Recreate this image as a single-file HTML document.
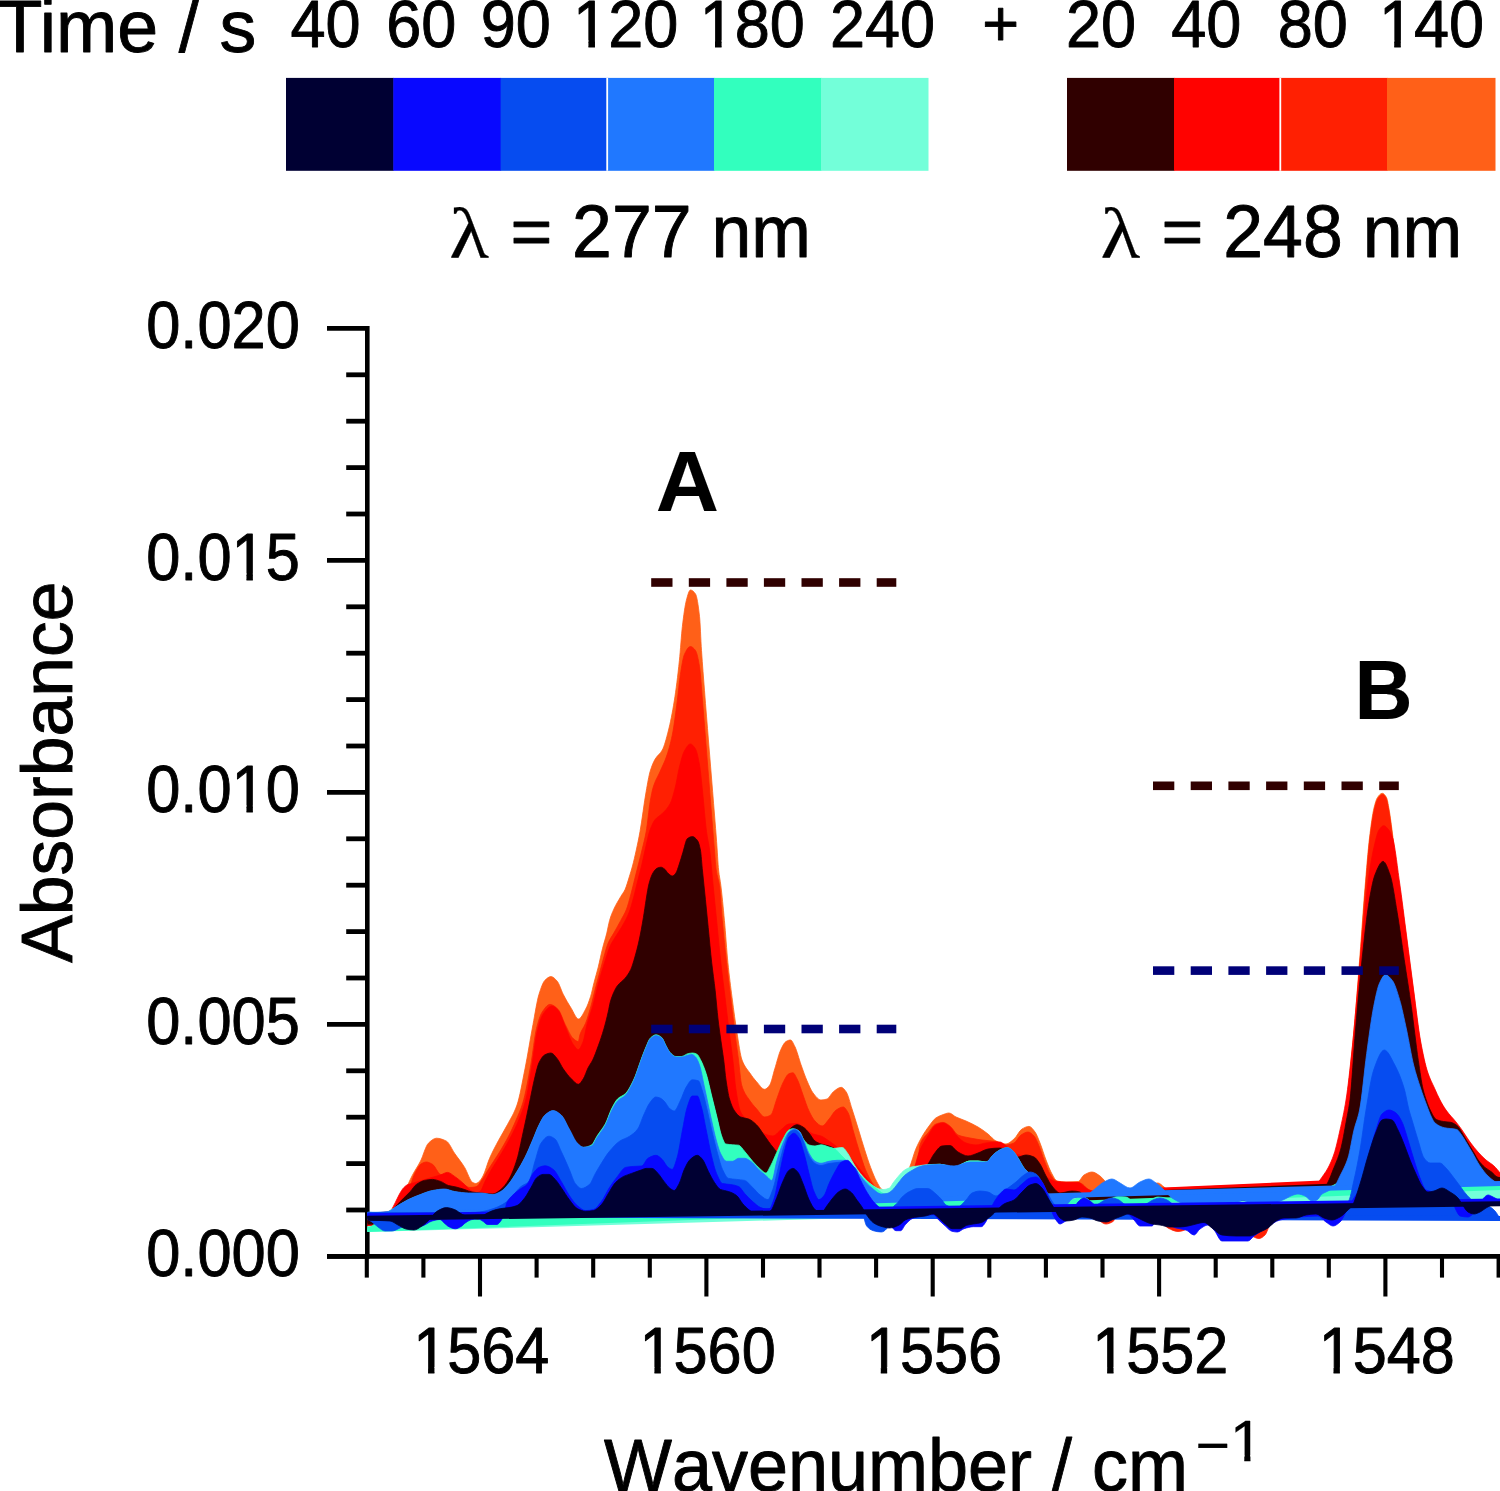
<!DOCTYPE html>
<html lang="en">
<head>
<meta charset="utf-8">
<title>Absorbance vs Wavenumber</title>
<style>
html,body{margin:0;padding:0;background:#fff;}
body{width:1500px;height:1491px;overflow:hidden;}
svg{display:block;}
text{font-family:"Liberation Sans", sans-serif;fill:#000;font-kerning:none;}
.ser{font-family:"Liberation Serif", serif;}
</style>
</head>
<body>
<svg width="1500" height="1491" viewBox="0 0 1500 1491">
<rect width="1500" height="1491" fill="#fff"/>
<defs><clipPath id="c1a" clipPathUnits="userSpaceOnUse"><path clip-rule="evenodd" d="M-60 -130H900V60H-60ZM4.0 -9.8H24.3V4.0H4.0ZM34.7 -9.8H54.0V4.0H34.7Z"/></clipPath><clipPath id="c1b" clipPathUnits="userSpaceOnUse"><path clip-rule="evenodd" d="M-60 -130H900V60H-60ZM143.0 -9.8H163.3V4.0H143.0ZM173.7 -9.8H193.0V4.0H173.7Z"/></clipPath><clipPath id="c1c" clipPathUnits="userSpaceOnUse"><path clip-rule="evenodd" d="M-60 -130H900V60H-60ZM62.4 -17.4H82.7V-3.6H62.4ZM93.1 -17.4H112.4V-3.6H93.1Z"/></clipPath></defs>
<g id="legend">
<rect x="286" y="77.9" width="107.8" height="92.9" fill="#000033"/>
<rect x="393.3" y="77.9" width="107.8" height="92.9" fill="#0808ff"/>
<rect x="500.6" y="77.9" width="107.6" height="92.9" fill="#064cf0"/>
<rect x="607.7" y="77.9" width="106.8" height="92.9" fill="#2078ff"/>
<rect x="714" y="77.9" width="107.5" height="92.9" fill="#32ffbe"/>
<rect x="821" y="77.9" width="107.5" height="92.9" fill="#73ffd9"/>
<rect x="606.3" y="77.9" width="1.8" height="92.9" fill="#fff"/>
<rect x="1067" y="77.9" width="107.5" height="92.9" fill="#300000"/>
<rect x="1174" y="77.9" width="107.0" height="92.9" fill="#ff0200"/>
<rect x="1280.5" y="77.9" width="107.0" height="92.9" fill="#ff2002"/>
<rect x="1387" y="77.9" width="108.5" height="92.9" fill="#ff6018"/>
<rect x="1279.4" y="77.9" width="1.8" height="92.9" fill="#fff"/>
<text transform="translate(-2.44 52.40) scale(0.7357 0.7450)" font-size="100" stroke="#000" stroke-width="1.22" stroke-linejoin="round" style="font-kerning:normal">Time / s</text>
<text transform="translate(290.47 46.74) scale(0.6300 0.6590)" font-size="100" stroke="#000" stroke-width="1.40" stroke-linejoin="round">40</text>
<text transform="translate(386.32 46.74) scale(0.6300 0.6590)" font-size="100" stroke="#000" stroke-width="1.40" stroke-linejoin="round">60</text>
<text transform="translate(480.72 46.74) scale(0.6300 0.6590)" font-size="100" stroke="#000" stroke-width="1.40" stroke-linejoin="round">90</text>
<text transform="translate(573.11 46.74) scale(0.6300 0.6590)" font-size="100" stroke="#000" stroke-width="1.40" stroke-linejoin="round" clip-path="url(#c1a)">120</text>
<text transform="translate(699.71 46.74) scale(0.6300 0.6590)" font-size="100" stroke="#000" stroke-width="1.40" stroke-linejoin="round" clip-path="url(#c1a)">180</text>
<text transform="translate(829.88 46.74) scale(0.6300 0.6590)" font-size="100" stroke="#000" stroke-width="1.40" stroke-linejoin="round">240</text>
<text transform="translate(1066.02 46.74) scale(0.6300 0.6590)" font-size="100" stroke="#000" stroke-width="1.40" stroke-linejoin="round">20</text>
<text transform="translate(1171.26 46.74) scale(0.6300 0.6590)" font-size="100" stroke="#000" stroke-width="1.40" stroke-linejoin="round">40</text>
<text transform="translate(1277.63 46.74) scale(0.6300 0.6590)" font-size="100" stroke="#000" stroke-width="1.40" stroke-linejoin="round">80</text>
<text transform="translate(1378.91 46.74) scale(0.6300 0.6590)" font-size="100" stroke="#000" stroke-width="1.40" stroke-linejoin="round" clip-path="url(#c1a)">140</text>
<text transform="translate(982.30 45.80) scale(0.6300 0.6400)" font-size="100" stroke="#000" stroke-width="1.42" stroke-linejoin="round">+</text>
<text transform="translate(449.20 257.70) scale(0.8180 0.7200)" font-size="100" stroke="#000" stroke-width="0.33" stroke-linejoin="round" class="ser">λ</text>
<text transform="translate(510.40 253.50) scale(0.7160 0.6450)" font-size="100" stroke="#000" stroke-width="1.32" stroke-linejoin="round">=</text>
<text transform="translate(572.10 257.40) scale(0.7160 0.7340)" font-size="100" stroke="#000" stroke-width="1.24" stroke-linejoin="round">277 nm</text>
<text transform="translate(1100.40 257.70) scale(0.8180 0.7200)" font-size="100" stroke="#000" stroke-width="0.33" stroke-linejoin="round" class="ser">λ</text>
<text transform="translate(1161.60 253.50) scale(0.7160 0.6450)" font-size="100" stroke="#000" stroke-width="1.32" stroke-linejoin="round">=</text>
<text transform="translate(1223.30 257.40) scale(0.7160 0.7340)" font-size="100" stroke="#000" stroke-width="1.24" stroke-linejoin="round">248 nm</text>
</g>
<g id="spectra">
<path d="M367.3 326.0V1258.8000000000002" stroke="#000" stroke-width="4.6" fill="none"/>
<clipPath id="plotclip"><rect x="367.3" y="300" width="1132.7" height="960"/></clipPath>
<g clip-path="url(#plotclip)">
<path d="M367.3 1214.6C371.5 1214.0 375.8 1213.3 380.0 1212.6C384.0 1211.9 388.0 1211.8 392.0 1210.5C394.0 1209.8 396.0 1206.7 398.0 1204.0C400.0 1201.3 402.0 1196.9 404.0 1193.0C406.8 1187.6 409.5 1180.7 412.3 1175.4C415.0 1170.2 417.7 1166.6 420.4 1161.3C423.1 1156.1 425.7 1145.8 428.4 1143.2C431.1 1140.6 433.8 1138.2 436.5 1138.2C439.8 1138.2 443.2 1139.5 446.5 1141.2C449.2 1142.6 451.9 1149.4 454.6 1153.3C457.9 1158.1 461.3 1162.0 464.6 1167.4C467.3 1171.8 470.0 1181.1 472.7 1182.5C473.7 1183.0 474.7 1183.5 475.7 1183.5C476.7 1183.5 477.7 1182.7 478.7 1182.0C480.1 1181.0 481.6 1178.6 483.0 1176.0C485.2 1172.1 487.3 1163.5 489.5 1158.5C492.5 1151.6 495.5 1146.1 498.5 1140.5C501.5 1134.9 504.5 1130.2 507.5 1124.5C510.7 1118.5 513.8 1114.0 517.0 1105.0C519.7 1097.4 522.3 1082.1 525.0 1068.8C527.7 1055.5 530.3 1038.5 533.0 1024.5C535.0 1014.0 537.0 1000.7 539.0 994.3C541.0 987.9 543.0 982.1 545.0 980.2C547.0 978.3 549.0 976.6 551.0 976.6C553.1 976.6 555.1 978.9 557.2 981.2C559.2 983.4 561.2 990.4 563.2 994.3C565.9 999.6 568.6 1004.1 571.3 1008.4C573.7 1012.2 576.1 1019.0 578.5 1019.0C580.9 1019.0 583.2 1013.5 585.6 1009.2C587.3 1006.2 588.9 1001.8 590.6 996.5C591.8 992.8 592.9 986.9 594.1 982.4C595.5 977.0 596.9 972.5 598.3 966.9C599.7 961.3 601.1 954.1 602.5 948.6C603.9 942.9 605.4 938.9 606.8 933.1C607.7 929.3 608.7 923.6 609.6 920.4C611.0 915.6 612.4 912.3 613.8 909.2C616.1 904.1 618.5 900.5 620.8 896.5C622.2 894.0 623.7 892.5 625.1 889.4C626.5 886.4 627.9 881.3 629.3 876.8C630.4 873.4 631.4 870.0 632.5 866.0C633.8 861.3 635.0 855.8 636.3 850.0C637.5 844.4 638.8 838.5 640.0 831.6C642.1 820.1 644.1 802.9 646.2 791.3C647.5 783.8 648.9 775.6 650.2 771.2C651.9 765.7 653.5 761.8 655.2 759.0C657.6 755.0 659.9 754.3 662.3 750.0C664.3 746.3 666.3 738.8 668.3 731.0C670.3 723.2 672.3 713.2 674.3 700.8C676.0 690.3 677.7 676.6 679.4 660.5C680.4 651.0 681.4 634.7 682.4 626.3C683.7 615.1 685.1 605.1 686.4 600.2C687.7 595.3 689.1 590.0 690.4 590.0C692.1 590.0 693.8 591.6 695.5 594.0C696.8 595.9 698.2 604.4 699.5 616.3C700.2 622.2 700.8 640.4 701.5 650.5C702.5 665.6 703.5 677.7 704.5 690.7C705.8 708.0 707.2 724.4 708.5 741.0C709.9 758.0 711.2 774.3 712.6 791.3C713.9 807.9 715.3 823.7 716.6 841.6C717.3 850.6 717.9 863.8 718.6 870.0C719.3 876.9 720.1 879.3 720.8 885.2C722.0 894.8 723.2 907.4 724.4 920.4C725.6 933.0 726.7 951.1 727.9 962.7C729.3 976.6 730.7 987.1 732.1 997.9C733.7 1010.5 735.4 1022.9 737.0 1033.0C738.7 1043.3 740.3 1055.6 742.0 1060.0C744.6 1066.8 747.1 1069.1 749.7 1072.8C752.0 1076.2 754.4 1079.4 756.7 1081.9C759.4 1084.8 762.0 1089.3 764.7 1089.3C766.4 1089.3 768.1 1087.2 769.8 1084.9C771.5 1082.6 773.1 1074.1 774.8 1068.8C776.8 1062.4 778.8 1053.9 780.8 1049.7C782.5 1046.1 784.2 1042.6 785.9 1041.6C787.4 1040.7 789.0 1040.0 790.5 1040.0C792.0 1040.0 793.4 1043.7 794.9 1046.6C796.9 1050.6 799.0 1059.0 801.0 1064.7C803.0 1070.3 805.0 1076.2 807.0 1080.8C809.0 1085.4 811.0 1090.4 813.0 1092.9C815.7 1096.2 818.3 1100.0 821.0 1100.0C823.0 1100.0 825.1 1099.6 827.1 1099.0C829.1 1098.4 831.2 1093.5 833.2 1091.9C835.9 1089.8 838.5 1087.3 841.2 1087.3C842.9 1087.3 844.5 1089.6 846.2 1091.9C848.1 1094.6 850.1 1103.1 852.0 1109.0C854.1 1115.4 856.2 1122.2 858.3 1129.0C860.4 1135.7 862.4 1142.9 864.5 1149.3C866.5 1155.6 868.6 1162.1 870.6 1167.4C872.6 1172.6 874.6 1177.8 876.6 1181.4C878.4 1184.7 880.2 1188.5 882.0 1189.5C884.7 1190.9 887.3 1192.0 890.0 1192.0C893.3 1192.0 896.7 1188.4 900.0 1185.0C903.2 1181.7 906.4 1174.8 909.6 1167.4C911.6 1162.7 913.7 1154.2 915.7 1149.3C917.7 1144.5 919.7 1140.7 921.7 1137.2C924.4 1132.5 927.1 1128.5 929.8 1125.0C931.8 1122.4 933.8 1119.4 935.8 1118.0C937.9 1116.6 939.9 1115.7 942.0 1115.0C944.3 1114.2 946.7 1113.0 949.0 1113.0C951.3 1113.0 953.7 1115.9 956.0 1117.0C959.3 1118.6 962.7 1119.5 966.0 1121.0C970.0 1122.8 974.0 1124.7 978.0 1127.0C981.3 1129.0 984.7 1131.4 988.0 1134.0C990.7 1136.1 993.3 1139.8 996.0 1141.0C999.3 1142.5 1002.7 1144.0 1006.0 1144.0C1008.7 1144.0 1011.3 1141.2 1014.0 1139.0C1016.7 1136.8 1019.3 1130.5 1022.0 1129.0C1024.3 1127.7 1026.7 1126.4 1029.0 1126.4C1031.0 1126.4 1033.0 1129.3 1035.0 1132.0C1036.7 1134.2 1038.3 1138.9 1040.0 1143.0C1042.0 1147.9 1044.0 1154.9 1046.0 1160.0C1048.0 1165.1 1050.0 1170.5 1052.0 1174.0C1053.7 1176.9 1055.3 1180.6 1057.0 1181.0C1060.0 1181.7 1063.0 1182.0 1066.0 1182.0C1070.0 1182.0 1074.0 1181.9 1078.0 1181.6C1080.0 1181.5 1082.0 1176.1 1084.0 1175.0C1086.7 1173.5 1089.3 1172.0 1092.0 1172.0C1094.7 1172.0 1097.3 1174.2 1100.0 1176.0C1102.0 1177.4 1104.0 1180.4 1106.0 1182.0C1109.0 1184.4 1112.0 1187.3 1115.0 1188.0C1120.0 1189.2 1125.0 1190.0 1130.0 1190.0C1135.0 1190.0 1140.0 1187.2 1145.0 1186.0C1149.3 1184.9 1153.7 1183.0 1158.0 1183.0C1160.0 1183.0 1162.0 1185.6 1164.0 1187.0C1167.7 1189.5 1171.3 1194.4 1175.0 1195.0C1183.3 1196.3 1191.7 1197.0 1200.0 1197.0C1216.7 1197.0 1233.3 1197.0 1250.0 1197.0C1266.7 1197.0 1283.3 1196.2 1300.0 1195.0C1308.3 1194.4 1316.7 1193.3 1325.0 1190.0C1328.3 1188.7 1331.7 1182.9 1335.0 1175.0C1337.3 1169.4 1339.7 1154.7 1342.0 1140.0C1344.0 1127.4 1346.0 1108.2 1348.0 1090.0C1350.0 1071.8 1352.0 1052.2 1354.0 1030.0C1356.0 1007.8 1358.0 980.9 1360.0 955.0C1361.7 933.4 1363.3 908.2 1365.0 888.0C1366.5 869.8 1368.0 850.5 1369.5 838.0C1371.0 825.5 1372.5 814.1 1374.0 808.0C1375.2 803.2 1376.3 799.1 1377.5 797.5C1379.1 795.3 1380.7 793.3 1382.3 793.3C1383.7 793.3 1385.1 795.1 1386.5 797.5C1387.3 798.9 1388.2 804.4 1389.0 809.0C1390.0 814.5 1391.0 822.6 1392.0 830.0C1393.3 839.9 1394.7 851.9 1396.0 862.0C1398.0 877.2 1400.0 890.3 1402.0 905.0C1404.0 919.7 1406.0 935.0 1408.0 950.0C1410.0 965.0 1412.0 980.0 1414.0 995.0C1416.0 1010.0 1418.0 1028.6 1420.0 1040.0C1422.3 1053.3 1424.7 1064.6 1427.0 1072.0C1429.3 1079.4 1431.7 1084.0 1434.0 1089.0C1437.3 1096.2 1440.7 1102.7 1444.0 1108.0C1448.0 1114.3 1452.0 1118.8 1456.0 1124.0C1458.7 1127.4 1461.3 1130.4 1464.0 1134.0C1466.7 1137.6 1469.3 1142.4 1472.0 1146.0C1474.7 1149.6 1477.3 1153.3 1480.0 1156.0C1482.7 1158.7 1485.3 1160.7 1488.0 1163.0C1490.0 1164.7 1492.0 1166.2 1494.0 1168.0C1496.0 1169.8 1498.0 1171.8 1500.0 1174.0L1500.0 1177.0L367.3 1222.0Z" fill="#ff6018" stroke="#ff6018" stroke-width="0.8" stroke-linejoin="round"/>
<path d="M360 1222.29L1510 1176.60" stroke="#ff6018" stroke-width="4" fill="none"/>
<path d="M367.3 1215.0C371.5 1214.9 375.8 1214.5 380.0 1214.0C384.0 1213.5 388.0 1212.9 392.0 1211.5C394.3 1210.7 396.7 1207.7 399.0 1205.0C401.0 1202.7 403.0 1199.4 405.0 1196.0C407.1 1192.4 409.1 1188.7 411.2 1183.5C411.9 1181.7 412.6 1178.7 413.3 1177.0C414.7 1173.5 416.2 1170.8 417.6 1168.5C418.7 1166.7 419.9 1164.7 421.0 1164.0C422.8 1162.9 424.6 1162.0 426.4 1162.0C428.4 1162.0 430.4 1163.2 432.4 1164.3C435.1 1165.8 437.8 1173.4 440.5 1174.4C443.0 1175.3 445.5 1175.3 448.0 1176.0C450.7 1176.8 453.3 1178.5 456.0 1180.0C458.7 1181.5 461.3 1183.7 464.0 1185.0C466.0 1186.0 468.0 1187.5 470.0 1187.5C472.0 1187.5 474.0 1187.2 476.0 1186.8C478.0 1186.4 480.0 1182.7 482.0 1180.0C483.8 1177.6 485.5 1174.0 487.3 1171.2C489.4 1167.9 491.4 1164.7 493.5 1161.5C495.5 1158.3 497.6 1155.3 499.6 1152.0C502.6 1147.0 505.7 1141.9 508.7 1136.0C511.2 1131.2 513.6 1125.8 516.1 1120.0C518.3 1114.8 520.6 1110.3 522.8 1103.0C525.5 1094.2 528.1 1079.4 530.8 1064.7C532.7 1054.2 534.6 1036.1 536.5 1028.5C538.3 1021.2 540.2 1015.2 542.0 1012.4C544.7 1008.3 547.3 1004.4 550.0 1004.4C552.7 1004.4 555.5 1006.8 558.2 1009.4C560.5 1011.7 562.9 1020.0 565.2 1024.5C567.9 1029.7 570.6 1036.3 573.3 1038.6C575.0 1040.0 576.6 1041.6 578.3 1041.6C578.9 1041.6 579.4 1036.1 580.0 1034.5C581.9 1029.1 583.7 1027.8 585.6 1023.2C587.5 1018.5 589.4 1011.7 591.3 1004.9C592.7 999.9 594.1 993.4 595.5 988.0C596.9 982.6 598.3 977.7 599.7 972.5C601.1 967.3 602.5 961.8 603.9 957.0C605.3 952.0 606.8 946.3 608.2 943.0C610.1 938.7 611.9 936.4 613.8 933.1C616.1 928.9 618.5 924.8 620.8 920.4C622.7 916.8 624.6 914.0 626.5 909.2C627.9 905.7 629.3 900.1 630.7 895.0C632.1 889.9 633.5 883.8 634.9 878.2C636.3 872.5 637.8 867.0 639.2 861.3C640.1 857.6 641.1 853.9 642.0 850.0C643.4 844.1 644.8 839.4 646.2 831.6C647.5 824.2 648.9 809.0 650.2 801.4C651.2 795.7 652.2 790.5 653.2 787.3C655.5 779.7 657.9 776.6 660.2 771.2C662.2 766.5 664.3 762.8 666.3 757.0C668.3 751.3 670.3 744.6 672.3 735.0C674.0 727.0 675.6 713.5 677.3 700.8C678.3 692.9 679.4 681.2 680.4 674.6C681.7 666.1 683.1 657.4 684.4 654.5C686.4 650.1 688.4 646.5 690.4 646.5C692.1 646.5 693.8 648.2 695.5 650.5C696.8 652.3 698.2 658.5 699.5 666.6C700.5 672.7 701.5 688.9 702.5 700.8C703.8 716.7 705.2 734.2 706.5 751.0C707.8 767.8 709.2 784.8 710.5 801.4C711.9 818.4 713.2 835.6 714.6 851.7C715.1 858.0 715.7 866.2 716.2 870.0C717.3 877.5 718.3 877.9 719.4 885.2C720.4 891.8 721.3 909.7 722.3 920.4C723.7 935.9 725.1 949.9 726.5 962.7C727.9 975.5 729.3 986.2 730.7 997.9C732.1 1009.6 733.5 1021.9 734.9 1033.0C736.1 1042.5 737.3 1050.7 738.5 1060.0C739.5 1068.0 740.6 1081.3 741.6 1084.9C744.0 1093.1 746.3 1095.4 748.7 1099.0C751.4 1103.1 754.0 1106.0 756.7 1109.0C759.4 1112.0 762.0 1117.0 764.7 1117.0C766.7 1117.0 768.8 1116.2 770.8 1115.0C772.8 1113.8 774.8 1104.3 776.8 1099.0C778.8 1093.6 780.9 1086.8 782.9 1082.9C784.9 1079.1 786.9 1074.6 788.9 1073.8C790.2 1073.3 791.6 1072.8 792.9 1072.8C794.3 1072.8 795.6 1076.3 797.0 1078.8C799.0 1082.5 801.0 1089.5 803.0 1094.9C805.0 1100.3 807.0 1106.9 809.0 1111.0C811.0 1115.1 813.0 1119.0 815.0 1121.0C817.4 1123.4 819.7 1126.0 822.1 1126.0C824.4 1126.0 826.8 1121.6 829.1 1119.0C831.5 1116.4 833.8 1111.5 836.2 1110.0C838.5 1108.5 840.9 1107.0 843.2 1107.0C844.9 1107.0 846.5 1110.0 848.2 1113.0C849.9 1116.0 851.6 1125.1 853.3 1131.0C855.3 1137.9 857.3 1145.0 859.3 1151.3C861.3 1157.7 863.4 1164.5 865.4 1169.4C867.4 1174.2 869.4 1178.2 871.4 1181.4C873.7 1185.1 876.1 1189.3 878.4 1190.5C882.3 1192.5 886.1 1194.0 890.0 1194.0C894.0 1194.0 898.0 1191.1 902.0 1188.0C904.7 1185.9 907.3 1180.2 910.0 1176.0C912.6 1172.0 915.1 1171.3 917.7 1163.3C918.5 1160.9 919.2 1147.2 920.0 1145.0C922.7 1137.3 925.3 1136.4 928.0 1133.0C930.7 1129.6 933.3 1125.0 936.0 1124.0C938.3 1123.1 940.7 1122.4 943.0 1122.4C945.3 1122.4 947.7 1124.4 950.0 1126.0C952.7 1127.9 955.3 1133.9 958.0 1135.0C962.0 1136.7 966.0 1137.2 970.0 1138.0C974.0 1138.8 978.0 1139.5 982.0 1140.0C986.7 1140.6 991.3 1140.8 996.0 1141.6C999.3 1142.2 1002.7 1145.0 1006.0 1145.0C1008.7 1145.0 1011.3 1144.1 1014.0 1143.0C1016.3 1142.0 1018.7 1136.5 1021.0 1135.0C1023.3 1133.5 1025.7 1132.0 1028.0 1132.0C1030.0 1132.0 1032.0 1134.0 1034.0 1136.0C1035.7 1137.7 1037.3 1142.1 1039.0 1146.0C1040.7 1149.9 1042.3 1155.7 1044.0 1160.0C1046.0 1165.1 1048.0 1170.9 1050.0 1174.0C1052.0 1177.1 1054.0 1180.4 1056.0 1181.0C1059.3 1181.9 1062.7 1182.5 1066.0 1182.5C1070.0 1182.5 1074.0 1182.5 1078.0 1182.5C1081.3 1182.5 1084.7 1185.6 1088.0 1190.0C1089.7 1192.2 1091.3 1201.5 1093.0 1206.0C1095.0 1211.4 1097.0 1218.1 1099.0 1220.0C1101.3 1222.2 1103.7 1224.0 1106.0 1224.0C1108.3 1224.0 1110.7 1222.9 1113.0 1221.5C1115.0 1220.3 1117.0 1212.6 1119.0 1212.0C1126.0 1209.8 1133.0 1209.0 1140.0 1209.0C1146.0 1209.0 1152.0 1213.9 1158.0 1218.0C1161.3 1220.3 1164.7 1226.3 1168.0 1228.0C1171.3 1229.7 1174.7 1231.5 1178.0 1231.5C1180.7 1231.5 1183.3 1230.6 1186.0 1229.5C1188.3 1228.5 1190.7 1220.4 1193.0 1220.0C1202.0 1218.5 1211.0 1218.0 1220.0 1218.0C1226.7 1218.0 1233.3 1222.1 1240.0 1226.0C1243.3 1227.9 1246.7 1233.2 1250.0 1235.0C1253.0 1236.6 1256.0 1238.5 1259.0 1238.5C1261.0 1238.5 1263.0 1236.9 1265.0 1235.0C1266.7 1233.4 1268.3 1227.5 1270.0 1224.0C1272.0 1219.8 1274.0 1214.2 1276.0 1212.0C1280.7 1206.8 1285.3 1204.1 1290.0 1202.0C1295.0 1199.7 1300.0 1198.6 1305.0 1197.0C1311.7 1194.9 1318.3 1194.5 1325.0 1191.0C1328.7 1189.1 1332.3 1183.6 1336.0 1175.0C1338.3 1169.5 1340.7 1154.7 1343.0 1140.0C1345.0 1127.4 1347.0 1108.2 1349.0 1090.0C1351.0 1071.8 1353.0 1053.1 1355.0 1030.0C1356.8 1008.8 1358.7 979.8 1360.5 955.0C1362.2 932.5 1363.8 908.2 1365.5 888.0C1367.0 869.8 1368.5 850.2 1370.0 838.0C1371.5 825.8 1373.0 815.0 1374.5 809.0C1375.7 804.3 1376.8 800.1 1378.0 798.5C1379.5 796.4 1381.1 794.5 1382.6 794.5C1383.7 794.5 1384.9 796.0 1386.0 798.0C1386.8 799.4 1387.7 804.6 1388.5 809.0C1389.4 814.0 1390.4 821.1 1391.3 828.0C1392.5 837.1 1393.8 848.5 1395.0 858.0C1397.0 873.5 1399.0 887.2 1401.0 902.0C1403.0 916.8 1405.0 932.0 1407.0 947.0C1409.0 962.0 1411.0 977.0 1413.0 992.0C1415.0 1007.0 1417.0 1025.4 1419.0 1037.0C1421.3 1050.6 1423.7 1062.2 1426.0 1070.0C1428.3 1077.8 1430.7 1082.9 1433.0 1088.0C1436.3 1095.3 1439.7 1101.7 1443.0 1107.0C1447.0 1113.3 1451.0 1117.8 1455.0 1123.0C1457.7 1126.4 1460.3 1129.4 1463.0 1133.0C1465.7 1136.6 1468.3 1141.4 1471.0 1145.0C1473.7 1148.6 1476.3 1152.3 1479.0 1155.0C1481.7 1157.7 1484.3 1159.7 1487.0 1162.0C1489.3 1164.0 1491.7 1165.6 1494.0 1168.0C1496.0 1170.1 1498.0 1172.9 1500.0 1176.0L1500.0 1176.0L367.3 1223.0Z" fill="#ff2002" stroke="#ff2002" stroke-width="0.8" stroke-linejoin="round"/>
<path d="M360 1223.30L1510 1175.59" stroke="#ff2002" stroke-width="4" fill="none"/>
<path d="M367.3 1225.0C369.9 1224.6 372.4 1223.4 375.0 1222.0C378.0 1220.4 381.0 1216.1 384.0 1214.0C386.3 1212.4 388.7 1212.1 391.0 1210.0C392.4 1208.7 393.8 1205.3 395.2 1202.7C396.6 1200.0 398.1 1196.5 399.5 1194.0C400.9 1191.6 402.3 1189.1 403.7 1187.7C405.1 1186.3 406.6 1185.0 408.0 1184.5C409.1 1184.1 410.1 1184.0 411.2 1183.7C414.1 1182.9 417.1 1181.9 420.0 1181.0C423.3 1180.0 426.7 1179.0 430.0 1178.0C433.5 1177.0 437.0 1176.1 440.5 1175.0C442.8 1174.2 445.2 1172.4 447.5 1172.4C449.9 1172.4 452.2 1174.8 454.6 1176.4C457.9 1178.6 461.3 1181.5 464.6 1184.5C466.4 1186.1 468.2 1188.8 470.0 1190.0C472.0 1191.3 474.0 1193.0 476.0 1193.0C477.5 1193.0 479.0 1192.1 480.5 1191.0C482.0 1189.9 483.5 1184.5 485.0 1181.5C486.8 1177.9 488.7 1174.4 490.5 1171.2C492.5 1167.7 494.5 1164.8 496.5 1161.5C498.4 1158.4 500.4 1155.3 502.3 1152.0C505.3 1146.9 508.3 1141.8 511.3 1136.0C513.8 1131.1 516.3 1126.1 518.8 1120.0C521.0 1114.5 523.3 1109.3 525.5 1101.0C527.5 1093.5 529.5 1080.6 531.5 1068.8C533.3 1057.9 535.2 1040.3 537.0 1032.6C539.0 1024.2 541.0 1017.3 543.0 1014.4C546.1 1009.9 549.1 1006.0 552.2 1006.0C554.2 1006.0 556.2 1008.2 558.2 1010.4C560.5 1013.0 562.9 1021.2 565.2 1026.5C567.9 1032.6 570.6 1040.9 573.3 1044.6C575.0 1046.9 576.6 1049.7 578.3 1049.7C579.9 1049.7 581.4 1045.8 583.0 1042.0C584.3 1038.8 585.7 1029.6 587.0 1024.6C588.9 1017.5 590.8 1013.1 592.7 1006.3C594.1 1001.3 595.5 994.8 596.9 989.4C598.3 984.0 599.7 978.7 601.1 973.9C602.5 968.9 604.0 964.3 605.4 959.9C607.0 954.9 608.7 949.3 610.3 945.8C611.9 942.3 613.6 940.0 615.2 937.3C617.6 933.4 619.9 930.2 622.3 926.0C624.6 921.9 627.0 918.0 629.3 912.0C630.7 908.4 632.1 903.0 633.5 897.9C634.9 892.8 636.3 886.6 637.7 881.0C639.1 875.3 640.6 870.1 642.0 864.0C643.0 859.6 644.1 854.4 645.1 850.0C646.8 842.8 648.5 834.2 650.2 829.6C651.9 825.1 653.5 821.5 655.2 819.5C657.6 816.6 659.9 815.9 662.3 813.5C665.0 810.8 667.6 808.4 670.3 803.4C672.0 800.3 673.6 793.8 675.3 787.3C676.7 782.0 678.0 772.6 679.4 767.2C681.1 760.7 682.7 753.9 684.4 751.0C686.4 747.5 688.4 744.0 690.4 744.0C692.1 744.0 693.8 746.3 695.5 749.0C696.8 751.2 698.2 757.5 699.5 765.0C700.5 770.6 701.5 782.0 702.5 791.3C703.8 803.8 705.2 821.7 706.5 831.6C707.5 839.2 708.6 842.3 709.6 850.0C710.8 858.7 711.9 873.5 713.1 885.2C714.5 899.3 715.9 913.4 717.3 927.5C718.5 939.2 719.6 952.1 720.8 962.7C722.2 975.7 723.7 986.0 725.1 997.9C726.5 1009.5 727.9 1021.8 729.3 1033.0C730.5 1042.3 731.6 1050.1 732.8 1060.0C733.9 1069.0 734.9 1083.1 736.0 1090.0C737.5 1099.9 739.1 1109.1 740.6 1112.0C743.3 1117.2 746.0 1118.6 748.7 1121.0C751.4 1123.4 754.0 1124.8 756.7 1127.0C759.4 1129.2 762.0 1133.0 764.7 1134.0C767.4 1135.0 770.1 1136.0 772.8 1136.0C775.5 1136.0 778.1 1132.0 780.8 1130.0C783.5 1128.0 786.2 1124.3 788.9 1124.0C791.6 1123.7 794.3 1123.5 797.0 1123.5C799.7 1123.5 802.3 1127.3 805.0 1129.0C807.7 1130.7 810.3 1133.0 813.0 1134.0C815.7 1135.0 818.3 1135.0 821.0 1136.0C823.7 1137.0 826.3 1139.2 829.0 1141.0C831.7 1142.8 834.5 1145.0 837.2 1147.0C839.9 1149.0 842.5 1150.7 845.2 1153.0C847.9 1155.3 850.6 1158.0 853.3 1161.0C856.0 1163.9 858.6 1167.6 861.3 1171.0C864.0 1174.4 866.7 1178.1 869.4 1181.4C872.1 1184.6 874.7 1188.8 877.4 1190.5C881.6 1193.2 885.8 1196.0 890.0 1196.0C894.0 1196.0 898.0 1194.3 902.0 1192.0C905.3 1190.1 908.7 1182.4 912.0 1175.0C914.7 1169.1 917.3 1156.0 920.0 1150.0C922.7 1144.0 925.3 1140.1 928.0 1136.0C930.7 1131.9 933.3 1126.2 936.0 1125.0C938.3 1123.9 940.7 1123.0 943.0 1123.0C945.3 1123.0 947.7 1125.2 950.0 1127.0C952.3 1128.8 954.7 1133.7 957.0 1136.0C960.0 1138.9 963.0 1142.0 966.0 1143.0C969.3 1144.1 972.7 1145.0 976.0 1145.0C979.3 1145.0 982.7 1143.4 986.0 1143.0C990.7 1142.5 995.3 1142.0 1000.0 1142.0C1002.0 1142.0 1004.0 1144.6 1006.0 1146.0C1009.3 1148.4 1012.7 1152.7 1016.0 1154.0C1021.3 1156.1 1026.7 1155.7 1032.0 1158.0C1034.7 1159.1 1037.3 1162.8 1040.0 1166.0C1042.7 1169.2 1045.3 1176.3 1048.0 1178.0C1051.3 1180.2 1054.7 1181.9 1058.0 1182.0C1064.7 1182.3 1071.3 1182.1 1078.0 1182.4C1080.7 1182.5 1083.3 1186.5 1086.0 1188.0C1088.0 1189.2 1090.0 1190.3 1092.0 1191.0C1098.0 1193.0 1104.0 1194.2 1110.0 1195.0C1116.7 1195.9 1123.3 1197.0 1130.0 1197.0C1136.7 1197.0 1143.3 1196.0 1150.0 1196.0C1154.7 1196.0 1159.3 1196.0 1164.0 1196.0C1169.3 1196.0 1174.7 1199.5 1180.0 1200.0C1186.7 1200.6 1193.3 1201.0 1200.0 1201.0C1216.7 1201.0 1233.3 1201.0 1250.0 1201.0C1263.3 1201.0 1276.7 1200.2 1290.0 1199.0C1297.3 1198.3 1304.7 1196.3 1312.0 1192.0C1314.7 1190.4 1317.3 1184.0 1320.0 1180.0C1322.7 1176.0 1325.3 1172.9 1328.0 1168.0C1330.0 1164.3 1332.0 1159.9 1334.0 1154.0C1336.0 1148.1 1338.0 1138.9 1340.0 1130.0C1342.0 1121.1 1344.0 1112.5 1346.0 1100.0C1348.0 1087.5 1350.0 1068.8 1352.0 1050.0C1354.0 1031.2 1356.0 1006.7 1358.0 985.0C1360.0 963.3 1362.0 939.6 1364.0 920.0C1365.7 903.7 1367.3 886.4 1369.0 875.0C1370.8 862.5 1372.7 852.5 1374.5 845.0C1376.0 838.8 1377.5 832.1 1379.0 830.0C1380.6 827.7 1382.2 825.7 1383.8 825.7C1385.2 825.7 1386.6 827.5 1388.0 829.0C1389.5 830.7 1391.0 833.3 1392.5 837.5C1394.8 844.0 1397.2 865.8 1399.5 882.0C1401.9 898.4 1404.2 917.9 1406.6 936.0C1408.9 953.9 1411.3 972.5 1413.6 990.0C1416.0 1007.7 1418.3 1028.8 1420.7 1041.7C1423.0 1054.4 1425.4 1065.1 1427.7 1072.2C1430.0 1079.3 1432.4 1083.4 1434.7 1088.6C1436.5 1092.6 1438.2 1096.7 1440.0 1100.0C1442.0 1103.8 1444.0 1107.2 1446.0 1110.0C1449.3 1114.7 1452.7 1117.8 1456.0 1122.0C1458.0 1124.5 1460.0 1127.2 1462.0 1130.0C1464.7 1133.8 1467.3 1138.4 1470.0 1142.0C1472.7 1145.6 1475.3 1149.0 1478.0 1152.0C1480.7 1155.0 1483.3 1157.7 1486.0 1160.0C1488.7 1162.3 1491.3 1163.5 1494.0 1166.0C1496.0 1167.8 1498.0 1170.3 1500.0 1173.0L1500.0 1175.0L367.3 1224.5Z" fill="#ff0200" stroke="#ff0200" stroke-width="0.8" stroke-linejoin="round"/>
<path d="M360 1224.82L1510 1174.56" stroke="#ff0200" stroke-width="4.5" fill="none"/>
<path d="M367.3 1221.0C371.5 1221.0 375.8 1220.1 380.0 1219.0C383.3 1218.1 386.7 1214.8 390.0 1212.0C393.4 1209.2 396.8 1205.0 400.2 1201.6C403.6 1198.2 406.9 1195.1 410.3 1191.5C412.3 1189.3 414.3 1185.9 416.3 1184.5C419.0 1182.6 421.7 1180.9 424.4 1180.4C427.1 1179.9 429.7 1179.4 432.4 1179.4C435.1 1179.4 437.8 1180.5 440.5 1181.4C443.2 1182.3 445.8 1184.7 448.5 1185.5C451.0 1186.2 453.5 1186.4 456.0 1187.0C458.9 1187.7 461.7 1188.6 464.6 1189.5C467.1 1190.3 469.5 1191.6 472.0 1192.0C474.9 1192.5 477.8 1192.7 480.7 1193.0C484.7 1193.4 488.8 1194.0 492.8 1194.0C495.5 1194.0 498.1 1191.6 500.8 1189.5C503.5 1187.4 506.2 1183.9 508.9 1179.4C511.6 1174.9 514.3 1168.0 517.0 1159.3C519.0 1152.9 521.0 1142.0 523.0 1133.0C525.0 1124.0 527.0 1114.4 529.0 1105.0C531.0 1095.6 533.0 1084.8 535.0 1076.8C536.3 1071.5 537.7 1065.4 539.0 1062.7C541.0 1058.7 543.0 1055.6 545.0 1054.7C547.0 1053.8 549.0 1053.0 551.0 1053.0C553.1 1053.0 555.1 1056.2 557.2 1058.7C559.2 1061.1 561.2 1065.9 563.2 1068.8C565.9 1072.7 568.6 1076.2 571.3 1078.8C573.6 1081.0 576.0 1084.3 578.3 1084.3C580.0 1084.3 581.6 1081.3 583.3 1078.8C584.9 1076.5 586.4 1071.1 588.0 1068.0C589.6 1064.9 591.1 1063.2 592.7 1060.0C594.6 1056.2 596.4 1050.9 598.3 1045.8C600.2 1040.7 602.0 1035.3 603.9 1028.9C605.3 1024.0 606.8 1018.2 608.2 1012.0C608.9 1009.0 609.6 1004.5 610.3 1002.0C611.5 997.8 612.6 994.9 613.8 992.3C615.0 989.7 616.1 987.5 617.3 985.9C619.9 982.4 622.5 981.3 625.1 978.2C627.0 975.9 628.8 973.5 630.7 969.7C632.1 966.8 633.5 961.8 634.9 957.0C636.3 952.1 637.8 946.6 639.2 940.1C640.6 933.7 642.0 925.9 643.4 917.6C644.3 912.1 645.3 904.9 646.2 899.3C647.1 893.7 648.1 887.3 649.0 883.8C650.4 878.6 651.8 874.6 653.2 872.5C654.6 870.3 656.1 868.5 657.5 868.0C658.7 867.6 659.8 867.2 661.0 867.2C662.2 867.2 663.3 868.2 664.5 869.0C665.7 869.8 666.8 872.2 668.0 873.2C669.4 874.4 670.9 876.0 672.3 876.0C673.5 876.0 674.6 874.6 675.8 873.2C677.0 871.8 678.1 867.5 679.3 864.1C680.5 860.7 681.6 856.5 682.8 852.8C684.3 848.0 685.9 839.7 687.4 838.6C689.1 837.4 690.7 836.6 692.4 836.6C694.1 836.6 695.8 838.3 697.5 840.6C698.5 841.9 699.4 845.1 700.4 850.0C701.1 853.5 701.8 864.1 702.5 871.0C703.5 880.6 704.4 889.7 705.4 899.3C706.3 908.6 707.3 918.1 708.2 927.5C709.4 939.2 710.5 952.3 711.7 962.7C712.9 973.1 714.0 980.3 715.2 990.8C716.1 999.2 717.1 1011.0 718.0 1019.0C718.9 1027.0 719.9 1033.3 720.8 1040.0C721.8 1046.9 722.7 1052.5 723.7 1060.0C724.5 1065.9 725.2 1074.8 726.0 1080.0C727.2 1087.9 728.3 1095.1 729.5 1099.0C731.2 1104.7 732.9 1108.6 734.6 1111.0C736.6 1113.8 738.6 1116.2 740.6 1117.0C743.3 1118.1 746.0 1118.0 748.7 1119.0C751.4 1120.0 754.0 1122.4 756.7 1125.0C759.4 1127.6 762.0 1132.4 764.7 1136.0C767.4 1139.7 770.1 1143.9 772.8 1147.0C774.8 1149.3 776.8 1153.0 778.8 1153.0C780.8 1153.0 782.9 1144.2 784.9 1140.0C786.9 1135.9 788.9 1129.7 790.9 1128.0C792.9 1126.3 795.0 1124.7 797.0 1124.7C799.0 1124.7 801.0 1125.9 803.0 1127.0C805.0 1128.1 807.0 1130.7 809.0 1133.0C811.0 1135.3 813.0 1139.5 815.0 1141.0C817.0 1142.5 819.0 1143.3 821.0 1144.0C823.7 1144.9 826.4 1145.1 829.1 1146.0C831.7 1146.9 834.4 1148.2 837.0 1150.0C839.7 1151.8 842.3 1154.8 845.0 1158.0C847.7 1161.2 850.3 1166.0 853.0 1170.0C855.7 1174.0 858.3 1178.8 861.0 1182.0C863.7 1185.2 866.3 1187.9 869.0 1190.0C871.7 1192.1 874.3 1194.1 877.0 1195.0C881.3 1196.5 885.7 1198.0 890.0 1198.0C895.0 1198.0 900.0 1196.3 905.0 1194.0C908.7 1192.3 912.3 1185.4 916.0 1180.0C918.0 1177.1 920.0 1172.5 922.0 1170.0C924.0 1167.5 926.0 1166.5 928.0 1164.0C930.0 1161.5 932.0 1156.5 934.0 1154.0C936.7 1150.6 939.3 1146.3 942.0 1146.0C944.7 1145.7 947.3 1145.6 950.0 1145.6C952.7 1145.6 955.3 1150.6 958.0 1152.0C961.3 1153.8 964.7 1156.0 968.0 1156.0C971.3 1156.0 974.7 1154.1 978.0 1153.0C981.3 1151.9 984.7 1149.5 988.0 1149.0C992.0 1148.4 996.0 1148.0 1000.0 1148.0C1003.3 1148.0 1006.7 1150.4 1010.0 1152.0C1012.7 1153.3 1015.3 1157.0 1018.0 1157.0C1020.7 1157.0 1023.3 1155.0 1026.0 1155.0C1028.7 1155.0 1031.3 1155.9 1034.0 1157.0C1036.0 1157.8 1038.0 1161.1 1040.0 1164.0C1042.0 1166.9 1044.0 1172.4 1046.0 1176.0C1048.0 1179.6 1050.0 1183.7 1052.0 1186.0C1054.7 1189.1 1057.3 1193.0 1060.0 1193.0C1064.0 1193.0 1068.0 1191.0 1072.0 1191.0C1074.7 1191.0 1077.3 1191.3 1080.0 1192.0C1081.0 1192.3 1082.0 1193.9 1083.0 1195.0C1084.3 1196.5 1085.7 1200.2 1087.0 1200.5C1090.0 1201.2 1093.0 1201.5 1096.0 1201.5C1100.7 1201.5 1105.3 1201.0 1110.0 1201.0C1123.3 1201.0 1136.7 1201.0 1150.0 1201.0C1154.7 1201.0 1159.3 1200.0 1164.0 1200.0C1169.3 1200.0 1174.7 1201.6 1180.0 1202.0C1186.7 1202.5 1193.3 1203.0 1200.0 1203.0C1216.7 1203.0 1233.3 1203.0 1250.0 1203.0C1266.7 1203.0 1283.3 1201.9 1300.0 1200.0C1307.3 1199.2 1314.7 1197.0 1322.0 1192.0C1324.3 1190.4 1326.7 1184.8 1329.0 1180.0C1330.3 1177.2 1331.7 1173.4 1333.0 1170.0C1335.5 1163.6 1338.0 1158.8 1340.5 1150.0C1342.5 1143.0 1344.5 1130.7 1346.5 1120.0C1347.7 1113.7 1348.8 1108.9 1350.0 1100.0C1351.8 1085.9 1353.7 1051.3 1355.5 1030.0C1358.1 999.9 1360.7 971.5 1363.3 947.8C1365.0 932.0 1366.8 916.0 1368.5 905.5C1370.6 892.6 1372.8 880.4 1374.9 875.0C1377.6 868.1 1380.4 861.4 1383.1 861.4C1385.4 861.4 1387.8 868.4 1390.1 875.0C1392.5 881.7 1394.8 898.6 1397.2 912.6C1399.5 926.4 1401.9 944.0 1404.2 959.5C1406.6 975.3 1408.9 989.6 1411.3 1006.5C1413.6 1023.1 1416.0 1044.8 1418.3 1060.5C1419.9 1071.1 1421.4 1082.3 1423.0 1089.0C1424.2 1094.1 1425.4 1097.6 1426.6 1101.0C1427.8 1104.4 1429.0 1107.7 1430.2 1110.0C1432.2 1114.0 1434.3 1118.5 1436.3 1119.5C1438.7 1120.7 1441.1 1121.1 1443.5 1121.5C1445.9 1121.9 1448.3 1121.9 1450.7 1122.3C1453.1 1122.8 1455.6 1124.4 1458.0 1126.5C1459.2 1127.6 1460.4 1130.0 1461.6 1132.0C1462.7 1133.8 1463.9 1136.0 1465.0 1137.9C1466.5 1140.4 1467.9 1142.9 1469.4 1145.3C1470.9 1147.7 1472.3 1150.1 1473.8 1152.5C1475.3 1154.9 1476.7 1158.0 1478.2 1160.0C1480.4 1163.0 1482.7 1165.5 1484.9 1167.4C1487.4 1169.5 1489.8 1170.4 1492.3 1172.5C1493.5 1173.5 1494.8 1175.7 1496.0 1176.3C1497.3 1177.0 1498.7 1177.7 1500.0 1177.7L1500.0 1179.5L367.3 1222.5Z" fill="#300000" stroke="#300000" stroke-width="0.8" stroke-linejoin="round"/>
<path d="M360 1222.78L1510 1179.12" stroke="#300000" stroke-width="4.5" fill="none"/>
<path d="M367.3 1231.0C368.9 1230.1 370.4 1229.1 372.0 1228.0C374.7 1226.1 377.3 1223.5 380.0 1221.0C382.7 1218.5 385.3 1215.1 388.0 1213.0C390.7 1210.9 393.3 1209.6 396.0 1208.0C400.0 1205.6 404.0 1202.9 408.0 1201.0C412.0 1199.1 416.0 1197.5 420.0 1196.0C424.0 1194.5 428.0 1192.7 432.0 1192.0C436.0 1191.3 440.0 1190.5 444.0 1190.5C447.7 1190.5 451.3 1192.4 455.0 1193.0C459.3 1193.7 463.7 1194.5 468.0 1194.5C472.3 1194.5 476.7 1194.5 481.0 1194.5C485.0 1194.5 489.0 1196.0 493.0 1196.0C495.7 1196.0 498.3 1194.5 501.0 1193.0C503.7 1191.5 506.3 1188.2 509.0 1185.0C511.7 1181.8 514.3 1177.3 517.0 1173.0C519.7 1168.7 522.3 1164.2 525.0 1159.0C527.7 1153.8 530.3 1147.2 533.0 1141.0C535.0 1136.3 537.0 1130.4 539.0 1126.5C541.0 1122.6 543.0 1118.2 545.0 1116.5C547.7 1114.2 550.3 1112.0 553.0 1112.0C555.7 1112.0 558.3 1114.2 561.0 1116.5C563.7 1118.8 566.3 1125.8 569.0 1130.5C571.7 1135.2 574.3 1142.1 577.0 1144.5C579.1 1146.4 581.2 1148.5 583.3 1148.5C586.0 1148.5 588.7 1147.4 591.4 1146.0C593.4 1144.9 595.4 1139.6 597.4 1136.5C600.1 1132.4 602.8 1129.5 605.5 1124.5C607.5 1120.8 609.5 1113.9 611.5 1110.0C613.5 1106.1 615.5 1102.0 617.5 1100.0C620.2 1097.3 622.9 1097.1 625.6 1094.5C628.3 1091.9 630.9 1086.5 633.6 1081.0C636.3 1075.4 639.0 1066.1 641.7 1059.0C643.2 1055.1 644.7 1050.9 646.2 1047.5C647.6 1044.3 649.0 1040.3 650.4 1039.0C652.3 1037.3 654.1 1035.8 656.0 1035.8C657.9 1035.8 659.8 1037.0 661.7 1038.5C663.1 1039.6 664.5 1044.0 665.9 1046.5C667.3 1049.0 668.7 1052.1 670.1 1053.5C672.0 1055.4 673.9 1057.5 675.8 1057.5C677.7 1057.5 679.5 1057.5 681.4 1057.5C683.8 1057.5 686.1 1055.4 688.5 1055.0C689.9 1054.8 691.3 1054.5 692.7 1054.5C694.1 1054.5 695.5 1055.2 696.9 1056.0C698.1 1056.7 699.2 1058.9 700.4 1061.0C702.3 1064.4 704.2 1069.6 706.1 1075.5C708.0 1081.3 709.8 1090.5 711.7 1098.0C713.6 1105.5 715.4 1113.1 717.3 1120.6C718.7 1126.2 720.1 1133.6 721.5 1137.5C722.9 1141.5 724.4 1145.9 725.8 1146.5C728.1 1147.5 730.3 1148.0 732.6 1148.0C734.6 1148.0 736.6 1148.0 738.6 1148.0C740.6 1148.0 742.6 1151.8 744.6 1154.0C747.3 1157.0 750.0 1161.0 752.7 1164.0C755.4 1166.9 758.0 1169.7 760.7 1172.0C762.4 1173.5 764.1 1176.0 765.8 1176.0C767.5 1176.0 769.1 1171.1 770.8 1168.0C772.8 1164.3 774.8 1159.3 776.8 1155.0C778.8 1150.6 780.9 1145.6 782.9 1142.0C784.9 1138.5 786.9 1134.5 788.9 1133.0C790.2 1132.0 791.6 1131.0 792.9 1131.0C794.9 1131.0 797.0 1131.8 799.0 1133.0C800.7 1133.9 802.3 1139.9 804.0 1142.0C805.7 1144.1 807.3 1146.5 809.0 1147.0C811.0 1147.6 813.0 1148.0 815.0 1148.0C817.0 1148.0 819.0 1147.0 821.0 1147.0C823.7 1147.0 826.3 1149.0 829.0 1149.0C831.0 1149.0 833.0 1148.5 835.0 1148.3C837.4 1148.0 839.9 1147.5 842.3 1147.5C844.1 1147.5 846.0 1151.0 847.8 1153.5C849.2 1155.4 850.6 1158.6 852.0 1161.0C853.8 1164.0 855.5 1167.0 857.3 1169.5C859.3 1172.3 861.3 1174.9 863.3 1177.0C866.0 1179.9 868.7 1182.6 871.4 1184.5C874.1 1186.4 876.7 1188.5 879.4 1189.0C880.8 1189.3 882.1 1189.5 883.5 1189.5C885.5 1189.5 887.5 1188.9 889.5 1188.0C890.7 1187.5 891.8 1184.6 893.0 1183.0C894.7 1180.8 896.3 1178.6 898.0 1176.7C900.2 1174.2 902.5 1171.4 904.7 1170.0C906.9 1168.6 909.1 1167.5 911.3 1167.0C914.0 1166.4 916.6 1166.2 919.3 1165.8C921.4 1165.5 923.6 1164.9 925.7 1164.8C930.5 1164.5 935.2 1164.3 940.0 1164.3C942.0 1164.3 944.0 1165.0 946.0 1165.5C948.7 1166.1 951.3 1168.0 954.0 1168.0C956.7 1168.0 959.3 1165.1 962.0 1164.0C964.7 1162.9 967.3 1161.0 970.0 1161.0C972.7 1161.0 975.3 1161.0 978.0 1161.0C980.7 1161.0 983.3 1162.0 986.0 1162.0C988.7 1162.0 991.3 1156.9 994.0 1155.0C996.7 1153.1 999.3 1151.0 1002.0 1150.0C1003.7 1149.4 1005.3 1148.6 1007.0 1148.6C1008.7 1148.6 1010.3 1149.8 1012.0 1151.0C1014.0 1152.4 1016.0 1156.0 1018.0 1159.0C1020.0 1162.0 1022.0 1166.5 1024.0 1169.0C1026.7 1172.4 1029.3 1174.3 1032.0 1177.0C1034.7 1179.7 1037.3 1182.0 1040.0 1185.0C1042.7 1188.0 1045.3 1193.1 1048.0 1195.0C1050.7 1196.9 1053.3 1198.2 1056.0 1199.0C1059.3 1200.0 1062.7 1201.0 1066.0 1201.0C1068.7 1201.0 1071.3 1200.5 1074.0 1200.0C1076.0 1199.6 1078.0 1197.0 1080.0 1197.0C1082.0 1197.0 1084.0 1198.1 1086.0 1199.0C1088.7 1200.1 1091.3 1204.0 1094.0 1204.0C1096.7 1204.0 1099.3 1204.0 1102.0 1204.0C1104.7 1204.0 1107.3 1201.0 1110.0 1200.0C1112.7 1199.0 1115.3 1197.5 1118.0 1197.5C1120.7 1197.5 1123.3 1197.7 1126.0 1198.0C1128.7 1198.3 1131.3 1202.4 1134.0 1203.0C1136.7 1203.6 1139.3 1204.0 1142.0 1204.0C1144.7 1204.0 1147.3 1202.0 1150.0 1201.0C1152.7 1200.0 1155.3 1198.0 1158.0 1198.0C1160.7 1198.0 1163.3 1198.6 1166.0 1199.0C1170.7 1199.7 1175.3 1201.3 1180.0 1202.0C1186.7 1202.9 1193.3 1204.0 1200.0 1204.0C1208.3 1204.0 1216.7 1204.0 1225.0 1204.0C1233.3 1204.0 1241.7 1204.0 1250.0 1204.0C1256.7 1204.0 1263.3 1204.0 1270.0 1204.0C1274.7 1204.0 1279.3 1200.2 1284.0 1198.0C1286.7 1196.8 1289.3 1194.9 1292.0 1194.0C1294.0 1193.3 1296.0 1192.5 1298.0 1192.5C1300.3 1192.5 1302.7 1193.4 1305.0 1194.0C1307.3 1194.6 1309.7 1196.0 1312.0 1196.0C1313.7 1196.0 1315.3 1195.5 1317.0 1195.0C1318.7 1194.5 1320.3 1191.9 1322.0 1191.0C1324.0 1189.9 1326.0 1189.4 1328.0 1188.5C1330.0 1187.6 1332.0 1186.5 1334.0 1185.5C1336.0 1184.5 1338.0 1183.3 1340.0 1182.5C1342.0 1181.7 1344.0 1181.5 1346.0 1180.5C1348.0 1179.5 1350.0 1178.0 1352.0 1175.0C1354.0 1172.0 1356.0 1162.5 1358.0 1152.0C1360.0 1141.5 1362.0 1119.1 1364.0 1102.0C1366.7 1079.3 1369.3 1050.3 1372.0 1032.0C1374.7 1013.7 1377.3 994.2 1380.0 987.0C1381.8 982.1 1383.6 977.0 1385.4 977.0C1387.3 977.0 1389.1 980.1 1391.0 983.0C1393.2 986.4 1395.3 994.5 1397.5 1002.0C1399.8 1010.1 1402.2 1021.2 1404.5 1032.0C1406.8 1042.8 1409.2 1055.7 1411.5 1067.0C1414.3 1080.8 1417.2 1100.6 1420.0 1107.0C1424.0 1116.0 1428.0 1120.7 1432.0 1124.0C1436.0 1127.3 1440.0 1129.3 1444.0 1131.0C1448.0 1132.7 1452.0 1132.6 1456.0 1135.0C1458.7 1136.6 1461.3 1144.4 1464.0 1152.0C1465.7 1156.7 1467.3 1166.7 1469.0 1172.0C1470.7 1177.3 1472.3 1184.0 1474.0 1185.0C1476.0 1186.2 1478.0 1186.7 1480.0 1187.0C1483.3 1187.5 1486.7 1187.6 1490.0 1188.0C1493.3 1188.4 1496.7 1189.2 1500.0 1190.0L1500.0 1196.5L367.3 1229.0Z" fill="#73ffd9" stroke="#73ffd9" stroke-width="0.8" stroke-linejoin="round"/>
<path d="M360 1229.21L1510 1196.21" stroke="#73ffd9" stroke-width="6" fill="none"/>
<path d="M367.3 1229.0C368.9 1228.1 370.4 1227.1 372.0 1226.0C374.7 1224.2 377.3 1222.3 380.0 1220.0C382.7 1217.7 385.3 1214.1 388.0 1212.0C390.7 1209.9 393.3 1208.6 396.0 1207.0C400.0 1204.6 404.0 1201.9 408.0 1200.0C412.0 1198.1 416.0 1196.5 420.0 1195.0C424.0 1193.5 428.0 1191.7 432.0 1191.0C436.0 1190.3 440.0 1189.5 444.0 1189.5C447.7 1189.5 451.3 1191.4 455.0 1192.0C459.3 1192.7 463.7 1193.5 468.0 1193.5C472.3 1193.5 476.7 1193.5 481.0 1193.5C485.0 1193.5 489.0 1195.0 493.0 1195.0C495.7 1195.0 498.3 1193.5 501.0 1192.0C503.7 1190.5 506.3 1187.2 509.0 1184.0C511.7 1180.8 514.3 1176.3 517.0 1172.0C519.7 1167.7 522.3 1163.2 525.0 1158.0C527.7 1152.8 530.3 1146.2 533.0 1140.0C535.0 1135.3 537.0 1129.4 539.0 1125.5C541.0 1121.6 543.0 1117.2 545.0 1115.5C547.7 1113.2 550.3 1111.0 553.0 1111.0C555.7 1111.0 558.3 1113.2 561.0 1115.5C563.7 1117.8 566.3 1124.8 569.0 1129.5C571.7 1134.2 574.3 1141.1 577.0 1143.5C579.1 1145.4 581.2 1147.5 583.3 1147.5C586.0 1147.5 588.7 1146.4 591.4 1145.0C593.4 1143.9 595.4 1138.6 597.4 1135.5C600.1 1131.4 602.8 1128.5 605.5 1123.5C607.5 1119.8 609.5 1112.9 611.5 1109.0C613.5 1105.1 615.5 1101.0 617.5 1099.0C620.2 1096.3 622.9 1096.1 625.6 1093.5C628.3 1090.9 630.9 1085.5 633.6 1080.0C636.3 1074.4 639.0 1065.1 641.7 1058.0C643.2 1054.1 644.7 1049.9 646.2 1046.5C647.6 1043.3 649.0 1039.3 650.4 1038.0C652.3 1036.3 654.1 1034.8 656.0 1034.8C657.9 1034.8 659.8 1036.0 661.7 1037.5C663.1 1038.6 664.5 1043.0 665.9 1045.5C667.3 1048.0 668.7 1051.1 670.1 1052.5C672.0 1054.4 673.9 1056.5 675.8 1056.5C677.7 1056.5 679.5 1056.5 681.4 1056.5C683.8 1056.5 686.1 1053.9 688.5 1053.5C689.9 1053.3 691.3 1053.0 692.7 1053.0C694.1 1053.0 695.5 1053.5 696.9 1054.2C698.1 1054.8 699.2 1057.3 700.4 1059.4C702.3 1062.9 704.2 1067.7 706.1 1073.5C708.0 1079.2 709.8 1088.5 711.7 1096.0C713.6 1103.5 715.4 1111.1 717.3 1118.6C718.7 1124.2 720.1 1131.8 721.5 1135.5C722.9 1139.3 724.4 1143.7 725.8 1144.0C728.1 1144.5 730.3 1144.6 732.6 1144.8C734.6 1145.0 736.6 1144.9 738.6 1145.2C740.6 1145.5 742.6 1149.1 744.6 1151.3C747.3 1154.3 750.0 1158.3 752.7 1161.3C755.4 1164.3 758.0 1167.2 760.7 1169.4C762.4 1170.8 764.1 1173.0 765.8 1173.0C767.5 1173.0 769.1 1168.4 770.8 1165.4C772.8 1161.8 774.8 1156.6 776.8 1152.3C778.8 1147.9 780.9 1142.8 782.9 1139.2C784.9 1135.6 786.9 1131.0 788.9 1130.0C790.2 1129.3 791.6 1128.7 792.9 1128.7C794.9 1128.7 797.0 1129.7 799.0 1131.0C800.7 1132.1 802.3 1137.9 804.0 1140.0C805.7 1142.1 807.3 1144.5 809.0 1145.0C811.0 1145.6 813.0 1146.0 815.0 1146.0C817.0 1146.0 819.0 1144.8 821.0 1144.8C823.7 1144.8 826.3 1146.2 829.0 1147.0C831.0 1147.6 833.0 1148.0 835.0 1149.0C836.7 1149.8 838.3 1152.3 840.0 1154.0C842.0 1156.0 844.0 1157.9 846.0 1160.0C847.8 1161.9 849.5 1164.0 851.3 1166.0C853.3 1168.2 855.3 1170.5 857.3 1172.5C859.3 1174.5 861.3 1176.2 863.3 1178.0C866.0 1180.4 868.7 1182.8 871.4 1185.0C874.1 1187.1 876.7 1189.2 879.4 1191.0C880.8 1191.9 882.1 1193.2 883.5 1193.5C884.7 1193.8 885.8 1194.0 887.0 1194.0C888.7 1194.0 890.3 1192.3 892.0 1191.0C894.0 1189.4 896.0 1186.4 898.0 1184.0C900.2 1181.4 902.5 1178.0 904.7 1176.0C907.4 1173.7 910.0 1172.0 912.7 1170.5C914.9 1169.2 917.1 1168.0 919.3 1167.2C921.4 1166.5 923.6 1165.8 925.7 1165.5C930.5 1164.8 935.2 1164.3 940.0 1164.3C942.0 1164.3 944.0 1165.0 946.0 1165.5C948.7 1166.1 951.3 1168.0 954.0 1168.0C956.7 1168.0 959.3 1165.1 962.0 1164.0C964.7 1162.9 967.3 1161.0 970.0 1161.0C972.7 1161.0 975.3 1161.0 978.0 1161.0C980.7 1161.0 983.3 1162.0 986.0 1162.0C988.7 1162.0 991.3 1156.1 994.0 1154.0C996.7 1151.9 999.3 1150.0 1002.0 1149.0C1003.7 1148.4 1005.3 1147.6 1007.0 1147.6C1008.7 1147.6 1010.3 1148.8 1012.0 1150.0C1014.0 1151.4 1016.0 1155.0 1018.0 1158.0C1020.0 1161.0 1022.0 1165.5 1024.0 1168.0C1026.7 1171.4 1029.3 1173.3 1032.0 1176.0C1034.7 1178.7 1037.3 1181.0 1040.0 1184.0C1042.7 1187.0 1045.3 1192.1 1048.0 1194.0C1050.7 1195.9 1053.3 1197.2 1056.0 1198.0C1059.3 1199.0 1062.7 1200.0 1066.0 1200.0C1068.7 1200.0 1071.3 1199.5 1074.0 1199.0C1076.0 1198.6 1078.0 1196.0 1080.0 1196.0C1082.0 1196.0 1084.0 1197.1 1086.0 1198.0C1088.7 1199.1 1091.3 1203.0 1094.0 1203.0C1096.7 1203.0 1099.3 1203.0 1102.0 1203.0C1104.7 1203.0 1107.3 1200.0 1110.0 1199.0C1112.7 1198.0 1115.3 1196.5 1118.0 1196.5C1120.7 1196.5 1123.3 1196.7 1126.0 1197.0C1128.7 1197.3 1131.3 1201.4 1134.0 1202.0C1136.7 1202.6 1139.3 1203.0 1142.0 1203.0C1144.7 1203.0 1147.3 1201.0 1150.0 1200.0C1152.7 1199.0 1155.3 1197.0 1158.0 1197.0C1160.7 1197.0 1163.3 1197.6 1166.0 1198.0C1170.7 1198.7 1175.3 1200.3 1180.0 1201.0C1186.7 1201.9 1193.3 1203.0 1200.0 1203.0C1208.3 1203.0 1216.7 1203.0 1225.0 1203.0C1228.7 1203.0 1232.3 1201.9 1236.0 1201.0C1238.3 1200.4 1240.7 1198.5 1243.0 1198.5C1245.3 1198.5 1247.7 1200.5 1250.0 1201.0C1254.0 1201.9 1258.0 1203.0 1262.0 1203.0C1266.0 1203.0 1270.0 1201.9 1274.0 1201.0C1277.3 1200.2 1280.7 1198.9 1284.0 1197.5C1286.7 1196.4 1289.3 1194.4 1292.0 1193.5C1294.0 1192.8 1296.0 1192.0 1298.0 1192.0C1300.3 1192.0 1302.7 1193.1 1305.0 1194.0C1307.3 1194.9 1309.7 1198.0 1312.0 1198.0C1313.7 1198.0 1315.3 1197.6 1317.0 1197.0C1318.7 1196.4 1320.3 1192.2 1322.0 1191.0C1324.0 1189.6 1326.0 1189.0 1328.0 1188.0C1330.0 1187.0 1332.0 1186.0 1334.0 1185.0C1336.0 1184.0 1338.0 1182.8 1340.0 1182.0C1342.0 1181.2 1344.0 1181.0 1346.0 1180.0C1348.0 1179.0 1350.0 1177.2 1352.0 1174.0C1354.0 1170.8 1356.0 1160.8 1358.0 1150.0C1360.0 1139.2 1362.0 1117.1 1364.0 1100.0C1366.7 1077.3 1369.3 1048.3 1372.0 1030.0C1374.7 1011.7 1377.3 992.2 1380.0 985.0C1381.8 980.1 1383.6 975.0 1385.4 975.0C1387.3 975.0 1389.1 978.1 1391.0 981.0C1393.2 984.4 1395.3 992.5 1397.5 1000.0C1399.8 1008.1 1402.2 1019.2 1404.5 1030.0C1406.8 1040.8 1409.2 1053.7 1411.5 1065.0C1414.3 1078.8 1417.2 1098.6 1420.0 1105.0C1424.0 1114.0 1428.0 1118.7 1432.0 1122.0C1436.0 1125.3 1440.0 1127.3 1444.0 1129.0C1448.0 1130.7 1452.0 1130.6 1456.0 1133.0C1458.7 1134.6 1461.3 1142.4 1464.0 1150.0C1465.7 1154.7 1467.3 1164.5 1469.0 1170.0C1470.7 1175.5 1472.3 1183.2 1474.0 1184.0C1476.0 1184.9 1478.0 1185.3 1480.0 1185.5C1483.3 1185.8 1486.7 1185.7 1490.0 1186.0C1493.3 1186.3 1496.7 1187.6 1500.0 1189.0L1500.0 1187.5L367.3 1229.5Z" fill="#32ffbe" stroke="#32ffbe" stroke-width="0.8" stroke-linejoin="round"/>
<path d="M360 1229.77L1510 1187.13" stroke="#32ffbe" stroke-width="5" fill="none"/>
<path d="M367.3 1212.0C370.9 1212.3 374.4 1212.3 378.0 1212.3C381.4 1212.3 384.8 1212.0 388.2 1211.6C390.9 1211.3 393.5 1208.2 396.2 1206.6C400.2 1204.2 404.3 1201.6 408.3 1199.6C412.3 1197.6 416.4 1196.0 420.4 1194.5C424.4 1193.0 428.4 1191.2 432.4 1190.5C436.4 1189.8 440.5 1189.0 444.5 1189.0C447.9 1189.0 451.2 1191.0 454.6 1191.5C459.3 1192.2 464.0 1193.0 468.7 1193.0C472.7 1193.0 476.7 1193.0 480.7 1193.0C484.7 1193.0 488.8 1194.5 492.8 1194.5C495.5 1194.5 498.1 1192.9 500.8 1191.5C503.5 1190.0 506.2 1186.7 508.9 1183.5C511.6 1180.3 514.3 1175.8 517.0 1171.4C519.7 1167.1 522.3 1162.6 525.0 1157.3C527.7 1152.0 530.3 1145.4 533.0 1139.2C535.0 1134.6 537.0 1128.9 539.0 1125.0C541.0 1121.1 543.0 1116.7 545.0 1115.0C547.7 1112.7 550.5 1110.6 553.2 1110.6C555.9 1110.6 558.5 1112.8 561.2 1115.0C563.9 1117.3 566.6 1124.3 569.3 1129.0C572.0 1133.6 574.6 1140.4 577.3 1143.0C579.3 1145.0 581.3 1147.2 583.3 1147.2C586.0 1147.2 588.7 1146.8 591.4 1146.0C593.4 1145.4 595.4 1140.0 597.4 1137.0C600.1 1133.0 602.8 1129.9 605.5 1125.0C607.5 1121.3 609.5 1114.9 611.5 1111.0C613.5 1107.1 615.5 1103.1 617.5 1101.0C620.2 1098.2 622.9 1097.8 625.6 1095.0C628.3 1092.2 630.9 1086.7 633.6 1081.0C636.3 1075.2 639.0 1065.8 641.7 1058.7C643.2 1054.7 644.7 1050.6 646.2 1047.2C647.6 1044.0 649.0 1040.0 650.4 1038.7C652.3 1037.0 654.1 1035.6 656.0 1035.6C657.9 1035.6 659.8 1036.7 661.7 1038.0C663.1 1039.0 664.5 1043.3 665.9 1045.8C667.3 1048.3 668.7 1051.3 670.1 1052.8C672.0 1054.8 673.9 1057.0 675.8 1057.0C677.7 1057.0 679.5 1057.0 681.4 1057.0C683.8 1057.0 686.1 1055.4 688.5 1055.0C689.7 1054.8 690.8 1054.5 692.0 1054.5C693.1 1054.5 694.2 1055.6 695.3 1056.7C696.7 1058.0 698.0 1061.0 699.4 1064.7C701.1 1069.2 702.7 1079.3 704.4 1086.9C706.4 1096.0 708.4 1106.0 710.4 1115.0C712.4 1124.1 714.5 1134.1 716.5 1141.2C717.8 1145.9 719.2 1150.8 720.5 1153.3C722.5 1157.1 724.5 1161.3 726.5 1161.3C728.5 1161.3 730.6 1161.3 732.6 1161.3C734.6 1161.3 736.6 1158.3 738.6 1158.3C740.6 1158.3 742.6 1158.3 744.6 1158.3C746.6 1158.3 748.7 1160.0 750.7 1161.3C753.4 1163.0 756.0 1166.9 758.7 1169.4C761.4 1171.9 764.1 1174.2 766.8 1176.4C768.5 1177.8 770.1 1180.4 771.8 1180.4C773.5 1180.4 775.1 1166.9 776.8 1161.3C778.8 1154.5 780.9 1147.9 782.9 1143.2C784.9 1138.6 786.9 1133.8 788.9 1132.0C790.6 1130.5 792.2 1129.0 793.9 1129.0C795.6 1129.0 797.3 1129.9 799.0 1131.0C800.7 1132.1 802.3 1137.3 804.0 1141.0C805.7 1144.7 807.3 1150.4 809.0 1153.3C811.0 1156.8 813.0 1160.2 815.0 1161.3C817.0 1162.4 819.0 1163.3 821.0 1163.3C823.7 1163.3 826.3 1161.7 829.0 1161.3C831.7 1160.9 834.5 1160.3 837.2 1160.3C839.9 1160.3 842.5 1160.3 845.2 1160.3C847.2 1160.3 849.3 1162.6 851.3 1164.3C853.3 1166.0 855.3 1168.9 857.3 1171.4C859.3 1173.9 861.3 1177.1 863.3 1179.4C866.0 1182.5 868.7 1185.4 871.4 1187.5C874.8 1190.2 878.1 1194.0 881.5 1194.0C883.3 1194.0 885.2 1193.8 887.0 1193.5C888.7 1193.2 890.3 1191.8 892.0 1190.5C894.0 1188.9 896.0 1185.7 898.0 1183.3C900.2 1180.6 902.5 1177.2 904.7 1175.3C907.4 1173.0 910.0 1171.5 912.7 1170.0C914.9 1168.8 917.1 1167.3 919.3 1166.7C922.1 1165.9 924.9 1165.2 927.7 1165.0C931.8 1164.7 935.9 1164.4 940.0 1164.4C944.7 1164.4 949.3 1166.0 954.0 1166.0C959.3 1166.0 964.7 1162.0 970.0 1162.0C975.3 1162.0 980.7 1162.0 986.0 1162.0C988.7 1162.0 991.3 1156.1 994.0 1154.0C996.7 1151.9 999.3 1150.0 1002.0 1149.0C1003.7 1148.4 1005.3 1147.6 1007.0 1147.6C1008.7 1147.6 1010.3 1148.8 1012.0 1150.0C1014.0 1151.4 1016.0 1155.0 1018.0 1158.0C1020.0 1161.0 1022.0 1165.5 1024.0 1168.0C1026.7 1171.4 1029.3 1173.3 1032.0 1176.0C1034.7 1178.7 1037.3 1181.0 1040.0 1184.0C1042.7 1187.0 1045.3 1189.8 1048.0 1194.0C1049.3 1196.1 1050.7 1200.6 1052.0 1202.0C1054.0 1204.1 1056.0 1206.0 1058.0 1206.0C1060.7 1206.0 1063.3 1205.6 1066.0 1205.0C1068.0 1204.5 1070.0 1200.0 1072.0 1199.0C1074.0 1198.0 1076.0 1197.0 1078.0 1197.0C1080.0 1197.0 1082.0 1197.5 1084.0 1197.5C1086.0 1197.5 1088.0 1194.6 1090.0 1193.0C1092.0 1191.4 1094.0 1189.6 1096.0 1188.0C1098.7 1185.9 1101.3 1183.3 1104.0 1182.0C1106.7 1180.7 1109.3 1179.0 1112.0 1179.0C1114.7 1179.0 1117.3 1181.7 1120.0 1183.0C1123.3 1184.7 1126.7 1188.0 1130.0 1188.0C1133.3 1188.0 1136.7 1183.4 1140.0 1182.0C1143.0 1180.7 1146.0 1179.0 1149.0 1179.0C1151.3 1179.0 1153.7 1181.4 1156.0 1183.0C1158.7 1184.8 1161.3 1187.5 1164.0 1190.0C1166.7 1192.5 1169.3 1196.3 1172.0 1198.0C1176.3 1200.8 1180.7 1203.1 1185.0 1204.0C1190.0 1205.0 1195.0 1206.0 1200.0 1206.0C1208.3 1206.0 1216.7 1206.0 1225.0 1206.0C1228.7 1206.0 1232.3 1204.1 1236.0 1203.0C1238.3 1202.3 1240.7 1200.5 1243.0 1200.5C1245.3 1200.5 1247.7 1202.5 1250.0 1203.0C1254.0 1203.9 1258.0 1205.0 1262.0 1205.0C1266.0 1205.0 1270.0 1203.9 1274.0 1203.0C1277.3 1202.2 1280.7 1200.9 1284.0 1199.5C1286.7 1198.4 1289.3 1196.4 1292.0 1195.5C1294.0 1194.8 1296.0 1194.0 1298.0 1194.0C1300.3 1194.0 1302.7 1195.0 1305.0 1196.0C1307.3 1197.0 1309.7 1201.0 1312.0 1201.0C1313.7 1201.0 1315.3 1200.6 1317.0 1200.0C1318.7 1199.4 1320.3 1195.2 1322.0 1194.0C1324.0 1192.6 1326.0 1192.1 1328.0 1191.0C1330.0 1189.9 1332.0 1189.0 1334.0 1187.0C1336.0 1185.0 1338.0 1180.0 1340.0 1176.0C1342.7 1170.6 1345.3 1166.2 1348.0 1158.0C1350.0 1151.8 1352.0 1138.1 1354.0 1130.0C1355.9 1122.5 1357.7 1119.1 1359.6 1110.0C1362.0 1098.5 1364.3 1070.6 1366.7 1053.4C1369.0 1036.4 1371.4 1018.1 1373.7 1006.5C1375.7 996.7 1377.6 987.1 1379.6 983.0C1381.5 979.0 1383.5 974.8 1385.4 974.8C1387.8 974.8 1390.1 977.7 1392.5 980.7C1394.8 983.7 1397.2 991.7 1399.5 999.4C1401.9 1007.2 1404.2 1019.0 1406.6 1030.0C1408.9 1040.8 1411.3 1055.7 1413.6 1065.0C1415.9 1074.2 1418.2 1081.0 1420.5 1088.0C1422.5 1094.2 1424.6 1099.7 1426.6 1105.0C1428.2 1109.2 1429.8 1113.8 1431.4 1117.0C1432.6 1119.4 1433.8 1122.0 1435.0 1123.0C1438.2 1125.7 1441.5 1127.1 1444.7 1127.8C1448.7 1128.7 1452.8 1128.4 1456.8 1129.5C1458.4 1130.0 1460.0 1132.9 1461.6 1135.0C1463.1 1137.0 1464.5 1139.6 1466.0 1142.0C1468.0 1145.3 1470.0 1148.6 1472.0 1152.0C1474.7 1156.5 1477.3 1162.1 1480.0 1166.0C1482.7 1169.9 1485.3 1173.4 1488.0 1176.0C1490.0 1178.0 1492.0 1179.5 1494.0 1181.0C1496.0 1182.5 1498.0 1183.8 1500.0 1185.0L1500.0 1183.5L367.3 1214.8Z" fill="#2078ff" stroke="#2078ff" stroke-width="0.8" stroke-linejoin="round"/>
<path d="M360 1215.00L1510 1183.22" stroke="#2078ff" stroke-width="5" fill="none"/>
<path d="M367.3 1219.0C368.9 1219.9 370.4 1220.9 372.0 1222.0C374.0 1223.4 376.0 1225.6 378.0 1227.0C380.3 1228.6 382.7 1231.0 385.0 1231.0C387.3 1231.0 389.7 1231.0 392.0 1231.0C394.7 1231.0 397.3 1229.0 400.0 1228.0C403.3 1226.7 406.7 1225.1 410.0 1224.0C413.3 1222.9 416.7 1221.9 420.0 1221.0C426.7 1219.2 433.3 1217.0 440.0 1216.0C446.7 1215.0 453.3 1214.7 460.0 1214.0C466.7 1213.3 473.3 1213.0 480.0 1212.0C485.0 1211.3 490.0 1209.8 495.0 1208.0C498.3 1206.8 501.6 1205.2 504.9 1203.0C507.6 1201.2 510.2 1198.2 512.9 1195.5C515.6 1192.8 518.3 1188.7 521.0 1186.5C523.7 1184.3 526.3 1184.4 529.0 1181.4C531.0 1179.2 533.0 1167.6 535.0 1161.3C537.0 1155.0 539.0 1146.0 541.0 1143.2C543.7 1139.5 546.3 1136.2 549.0 1136.2C551.1 1136.2 553.1 1137.6 555.2 1139.2C557.2 1140.8 559.2 1147.1 561.2 1151.3C563.9 1157.0 566.6 1163.2 569.3 1169.4C571.3 1174.0 573.3 1181.0 575.3 1183.5C577.3 1186.0 579.3 1188.5 581.3 1188.5C584.0 1188.5 586.7 1186.7 589.4 1184.5C591.4 1182.9 593.4 1176.9 595.4 1173.4C597.4 1169.9 599.4 1166.5 601.4 1163.3C604.1 1159.0 606.8 1154.5 609.5 1151.3C612.9 1147.3 616.2 1143.4 619.6 1141.2C622.9 1139.0 626.3 1138.4 629.6 1136.2C632.3 1134.5 635.0 1132.6 637.7 1129.0C639.7 1126.4 641.7 1119.3 643.7 1115.0C645.7 1110.7 647.7 1105.6 649.7 1103.0C651.7 1100.3 653.8 1097.0 655.8 1097.0C657.2 1097.0 658.6 1097.5 660.0 1098.0C661.3 1098.5 662.7 1099.8 664.0 1101.0C666.1 1102.9 668.1 1107.6 670.2 1109.0C671.5 1109.9 672.9 1111.0 674.2 1111.0C676.2 1111.0 678.2 1104.9 680.2 1101.0C682.2 1097.1 684.3 1090.1 686.3 1086.9C688.3 1083.8 690.3 1079.8 692.3 1079.8C694.3 1079.8 696.4 1080.1 698.4 1080.8C699.7 1081.2 701.1 1086.9 702.4 1091.0C704.1 1096.1 705.7 1104.0 707.4 1111.0C709.1 1118.0 710.7 1126.0 712.4 1133.0C714.1 1140.1 715.8 1147.3 717.5 1153.3C719.2 1159.2 720.8 1166.0 722.5 1169.4C724.5 1173.5 726.5 1177.9 728.5 1178.4C731.2 1179.0 733.9 1179.1 736.6 1179.4C739.3 1179.7 741.9 1179.8 744.6 1180.4C747.3 1181.0 750.0 1185.0 752.7 1187.5C755.4 1190.0 758.0 1193.6 760.7 1195.5C763.1 1197.2 765.4 1199.6 767.8 1199.6C769.5 1199.6 771.1 1193.9 772.8 1189.5C774.8 1184.2 776.8 1173.0 778.8 1165.4C780.8 1157.6 782.9 1148.8 784.9 1143.2C786.6 1138.6 788.2 1133.1 789.9 1132.0C791.6 1130.9 793.3 1130.0 795.0 1130.0C797.0 1130.0 799.0 1133.1 801.0 1136.0C802.3 1138.0 803.7 1142.7 805.0 1146.0C806.3 1149.3 807.7 1153.7 809.0 1156.0C811.0 1159.4 813.0 1162.4 815.0 1163.5C817.0 1164.6 819.0 1165.5 821.0 1165.5C823.7 1165.5 826.3 1163.9 829.0 1163.5C831.7 1163.1 834.3 1162.8 837.0 1162.5C839.7 1162.2 842.5 1161.8 845.2 1161.8C847.2 1161.8 849.3 1163.4 851.3 1164.8C853.3 1166.2 855.3 1167.2 857.3 1171.4C858.2 1173.3 859.1 1183.3 860.0 1190.0C860.8 1196.2 861.7 1205.6 862.5 1210.0C863.9 1217.4 865.3 1224.2 866.7 1226.0C868.9 1228.8 871.1 1230.1 873.3 1230.7C876.0 1231.4 878.6 1232.0 881.3 1232.0C883.1 1232.0 884.9 1230.7 886.7 1228.7C887.8 1227.5 888.9 1218.2 890.0 1215.0C891.3 1211.1 892.7 1207.6 894.0 1206.0C895.2 1204.6 896.3 1204.2 897.5 1203.0C898.9 1201.6 900.2 1198.9 901.6 1197.5C904.3 1194.9 906.9 1192.8 909.6 1191.5C912.3 1190.2 915.0 1188.5 917.7 1188.5C921.0 1188.5 924.4 1188.5 927.7 1188.5C930.5 1188.5 933.2 1191.8 936.0 1194.0C938.0 1195.6 940.0 1197.8 942.0 1200.0C943.3 1201.5 944.7 1204.3 946.0 1205.0C949.3 1206.8 952.7 1208.0 956.0 1208.0C959.3 1208.0 962.7 1203.2 966.0 1200.0C968.0 1198.1 970.0 1193.8 972.0 1193.0C974.7 1191.9 977.3 1191.0 980.0 1191.0C982.7 1191.0 985.3 1191.5 988.0 1192.0C990.7 1192.5 993.3 1196.0 996.0 1196.0C998.0 1196.0 1000.0 1193.3 1002.0 1192.0C1004.0 1190.7 1006.0 1189.4 1008.0 1188.0C1010.7 1186.1 1013.3 1184.2 1016.0 1182.0C1018.7 1179.8 1021.3 1176.7 1024.0 1175.0C1026.0 1173.7 1028.0 1172.0 1030.0 1172.0C1032.0 1172.0 1034.0 1172.9 1036.0 1174.0C1038.0 1175.1 1040.0 1178.8 1042.0 1182.0C1044.0 1185.2 1046.0 1190.4 1048.0 1194.0C1050.0 1197.6 1052.0 1201.9 1054.0 1204.0C1056.7 1206.8 1059.3 1210.0 1062.0 1210.0C1066.0 1210.0 1070.0 1210.0 1074.0 1210.0C1077.3 1210.0 1080.7 1208.5 1084.0 1208.0C1086.7 1207.6 1089.3 1207.5 1092.0 1207.0C1094.7 1206.5 1097.3 1204.4 1100.0 1203.0C1102.0 1201.9 1104.0 1200.2 1106.0 1199.5C1108.0 1198.8 1110.0 1198.0 1112.0 1198.0C1114.0 1198.0 1116.0 1198.8 1118.0 1199.5C1120.7 1200.5 1123.3 1204.2 1126.0 1205.0C1129.3 1206.1 1132.7 1207.0 1136.0 1207.0C1139.3 1207.0 1142.7 1205.3 1146.0 1204.0C1148.7 1202.9 1151.3 1200.4 1154.0 1199.5C1156.0 1198.8 1158.0 1198.0 1160.0 1198.0C1162.0 1198.0 1164.0 1198.8 1166.0 1199.5C1168.7 1200.5 1171.3 1203.3 1174.0 1205.0C1178.0 1207.5 1182.0 1211.1 1186.0 1212.0C1190.7 1213.1 1195.3 1213.6 1200.0 1214.0C1210.0 1215.0 1220.0 1216.0 1230.0 1216.0C1240.0 1216.0 1250.0 1214.9 1260.0 1214.0C1270.0 1213.1 1280.0 1210.9 1290.0 1210.0C1300.0 1209.1 1310.0 1208.9 1320.0 1208.0C1326.0 1207.5 1332.0 1207.1 1338.0 1206.0C1341.3 1205.4 1344.7 1204.6 1348.0 1202.0C1350.0 1200.5 1352.0 1188.5 1354.0 1180.0C1356.0 1171.5 1358.0 1161.4 1360.0 1150.0C1362.0 1138.6 1364.0 1121.7 1366.0 1110.0C1368.6 1094.9 1371.1 1077.3 1373.7 1070.0C1377.2 1060.0 1380.8 1050.0 1384.3 1050.0C1387.8 1050.0 1391.3 1058.6 1394.8 1065.0C1397.9 1070.7 1401.1 1078.2 1404.2 1088.6C1405.8 1093.9 1407.4 1104.0 1409.0 1110.0C1410.0 1113.8 1411.0 1116.7 1412.0 1120.0C1414.0 1126.7 1416.0 1133.7 1418.0 1140.0C1420.0 1146.3 1422.0 1155.4 1424.0 1158.0C1426.0 1160.6 1428.0 1163.0 1430.0 1163.0C1433.3 1163.0 1436.7 1163.0 1440.0 1163.0C1442.0 1163.0 1444.0 1166.0 1446.0 1168.0C1448.7 1170.6 1451.3 1174.6 1454.0 1178.0C1456.0 1180.6 1458.0 1183.3 1460.0 1186.0C1462.0 1188.7 1464.0 1191.7 1466.0 1194.0C1468.0 1196.3 1470.0 1198.6 1472.0 1200.0C1474.7 1201.8 1477.3 1203.1 1480.0 1204.0C1482.7 1204.9 1485.3 1205.1 1488.0 1206.0C1489.0 1206.4 1490.0 1206.9 1491.0 1207.5C1492.3 1208.3 1493.7 1209.5 1495.0 1211.0C1496.7 1212.9 1498.3 1215.7 1500.0 1219.0L1500.0 1218.5L367.3 1214.5Z" fill="#064cf0" stroke="#064cf0" stroke-width="0.8" stroke-linejoin="round"/>
<path d="M360 1214.47L1510 1218.54" stroke="#064cf0" stroke-width="5" fill="none"/>
<path d="M367.3 1214.0C371.5 1214.1 375.8 1215.0 380.0 1216.0C383.3 1216.8 386.7 1218.7 390.0 1220.0C393.3 1221.3 396.7 1223.0 400.0 1224.0C404.0 1225.2 408.0 1227.0 412.0 1227.0C415.3 1227.0 418.7 1226.6 422.0 1226.0C425.3 1225.4 428.7 1221.9 432.0 1221.0C434.7 1220.3 437.3 1219.5 440.0 1219.5C441.2 1219.5 442.4 1221.4 443.6 1222.4C445.4 1223.8 447.1 1225.9 448.9 1226.7C451.0 1227.7 453.2 1228.8 455.3 1228.8C457.1 1228.8 458.9 1227.6 460.7 1226.7C462.5 1225.8 464.2 1223.5 466.0 1222.4C468.0 1221.2 470.0 1219.8 472.0 1219.5C474.0 1219.2 476.0 1219.0 478.0 1219.0C479.7 1219.0 481.3 1220.3 483.0 1221.3C484.4 1222.1 485.9 1224.5 487.3 1224.5C490.5 1224.5 493.7 1224.5 496.9 1224.5C498.3 1224.5 499.8 1222.3 501.2 1220.3C502.1 1219.0 503.1 1216.6 504.0 1214.0C505.0 1211.2 506.0 1204.6 507.0 1202.6C509.0 1198.6 510.9 1197.0 512.9 1195.0C515.6 1192.3 518.3 1190.5 521.0 1188.5C523.0 1187.1 525.0 1186.5 527.0 1184.5C529.0 1182.5 531.0 1176.0 533.0 1173.4C535.0 1170.8 537.0 1168.2 539.0 1167.4C541.0 1166.6 543.0 1165.8 545.0 1165.8C547.7 1165.8 550.5 1167.5 553.2 1169.4C555.9 1171.2 558.5 1177.1 561.2 1181.4C563.9 1185.8 566.6 1191.5 569.3 1195.5C572.0 1199.4 574.6 1203.4 577.3 1205.6C580.0 1207.8 582.7 1210.6 585.4 1210.6C588.1 1210.6 590.7 1210.2 593.4 1209.6C596.1 1209.0 598.7 1205.0 601.4 1201.6C604.1 1198.2 606.8 1191.7 609.5 1187.5C612.2 1183.4 614.8 1179.7 617.5 1176.4C620.2 1173.1 622.9 1168.0 625.6 1167.4C628.3 1166.8 630.9 1166.6 633.6 1166.4C636.3 1166.2 639.0 1166.3 641.7 1166.0C643.8 1165.8 645.9 1159.5 648.0 1158.3C650.7 1156.7 653.3 1155.3 656.0 1155.3C658.0 1155.3 660.0 1157.5 662.0 1159.3C664.1 1161.1 666.1 1166.0 668.2 1167.4C669.5 1168.3 670.9 1169.4 672.2 1169.4C673.9 1169.4 675.5 1162.8 677.2 1157.3C678.9 1151.7 680.6 1139.5 682.3 1131.0C684.0 1122.7 685.6 1112.0 687.3 1107.0C689.0 1102.0 690.6 1096.0 692.3 1096.0C694.0 1096.0 695.6 1096.0 697.3 1096.0C698.7 1096.0 700.0 1102.3 701.4 1107.0C703.1 1112.7 704.7 1123.0 706.4 1131.0C708.1 1139.0 709.7 1148.5 711.4 1155.3C713.1 1162.3 714.8 1169.5 716.5 1173.4C718.5 1178.0 720.5 1183.0 722.5 1183.5C725.2 1184.1 727.8 1184.1 730.5 1184.5C733.2 1184.9 735.9 1185.4 738.6 1186.5C740.6 1187.3 742.6 1191.3 744.6 1193.5C747.3 1196.4 750.0 1199.3 752.7 1201.6C755.4 1203.9 758.0 1206.6 760.7 1207.6C763.4 1208.6 766.1 1209.6 768.8 1209.6C770.5 1209.6 772.1 1204.2 773.8 1199.6C775.5 1195.0 777.1 1185.0 778.8 1177.4C780.5 1169.6 782.2 1159.8 783.9 1153.3C785.6 1146.9 787.2 1139.3 788.9 1137.2C790.6 1135.1 792.2 1133.2 793.9 1133.2C795.6 1133.2 797.3 1135.7 799.0 1138.2C800.7 1140.7 802.3 1147.6 804.0 1153.3C805.7 1159.0 807.3 1167.1 809.0 1173.4C810.7 1179.7 812.3 1187.8 814.0 1191.5C815.7 1195.2 817.3 1199.6 819.0 1199.6C820.7 1199.6 822.4 1197.6 824.1 1195.5C825.8 1193.5 827.4 1187.1 829.1 1183.5C831.1 1179.1 833.2 1174.9 835.2 1171.4C837.2 1168.0 839.2 1163.4 841.2 1162.3C843.2 1161.2 845.2 1160.3 847.2 1160.3C849.2 1160.3 851.3 1163.8 853.3 1166.4C855.3 1169.0 857.3 1173.6 859.3 1177.4C861.3 1181.3 863.4 1186.0 865.4 1189.5C868.1 1194.1 870.7 1198.4 873.4 1201.6C876.1 1204.8 878.8 1206.7 881.5 1209.6C883.3 1211.6 885.2 1213.2 887.0 1216.0C888.7 1218.6 890.3 1225.3 892.0 1227.3C893.3 1228.9 894.7 1230.7 896.0 1230.7C897.6 1230.7 899.1 1230.7 900.7 1230.7C902.2 1230.7 903.8 1226.3 905.3 1224.7C907.5 1222.3 909.8 1219.7 912.0 1218.7C915.3 1217.3 918.7 1216.5 922.0 1216.0C925.8 1215.4 929.5 1214.7 933.3 1214.7C935.1 1214.7 936.9 1218.3 938.7 1220.0C940.9 1222.1 943.1 1224.1 945.3 1226.0C947.5 1227.9 949.8 1230.8 952.0 1231.3C953.8 1231.7 955.5 1232.0 957.3 1232.0C959.5 1232.0 961.8 1229.4 964.0 1228.7C967.1 1227.8 970.2 1226.7 973.3 1226.7C976.0 1226.7 978.6 1226.7 981.3 1226.7C982.6 1226.7 984.0 1224.5 985.3 1222.7C986.4 1221.2 987.4 1218.6 988.5 1216.0C989.7 1213.2 990.8 1208.4 992.0 1206.0C994.7 1200.5 997.3 1196.8 1000.0 1194.0C1002.0 1191.9 1004.0 1189.0 1006.0 1189.0C1008.7 1189.0 1011.3 1190.0 1014.0 1190.0C1016.7 1190.0 1019.3 1186.0 1022.0 1184.0C1024.7 1182.0 1027.3 1178.7 1030.0 1178.0C1032.0 1177.5 1034.0 1177.0 1036.0 1177.0C1038.0 1177.0 1040.0 1179.5 1042.0 1182.0C1044.0 1184.5 1046.0 1190.0 1048.0 1196.0C1049.3 1200.0 1050.7 1208.4 1052.0 1212.0C1053.3 1215.6 1054.7 1218.2 1056.0 1220.0C1057.3 1221.8 1058.7 1224.0 1060.0 1224.0C1061.3 1224.0 1062.7 1222.8 1064.0 1222.0C1066.0 1220.9 1068.0 1220.0 1070.0 1218.0C1072.7 1215.4 1075.3 1204.6 1078.0 1202.0C1080.0 1200.0 1082.0 1198.0 1084.0 1198.0C1086.0 1198.0 1088.0 1199.8 1090.0 1201.0C1092.0 1202.2 1094.0 1204.8 1096.0 1206.0C1100.7 1208.8 1105.3 1211.2 1110.0 1212.0C1116.0 1213.1 1122.0 1212.6 1128.0 1214.0C1130.0 1214.5 1132.0 1218.0 1134.0 1220.0C1136.0 1222.0 1138.0 1226.0 1140.0 1226.0C1144.0 1226.0 1148.0 1226.0 1152.0 1226.0C1153.3 1226.0 1154.7 1222.0 1156.0 1222.0C1159.3 1222.0 1162.7 1223.1 1166.0 1224.0C1169.3 1224.9 1172.7 1227.1 1176.0 1228.0C1179.3 1228.9 1182.7 1229.0 1186.0 1230.0C1188.7 1230.8 1191.3 1235.0 1194.0 1235.0C1196.0 1235.0 1198.0 1230.4 1200.0 1229.0C1202.7 1227.2 1205.3 1225.0 1208.0 1225.0C1210.0 1225.0 1212.0 1227.9 1214.0 1230.0C1216.7 1232.7 1219.3 1241.0 1222.0 1241.0C1230.7 1241.0 1239.3 1241.0 1248.0 1241.0C1250.0 1241.0 1252.0 1237.5 1254.0 1236.0C1258.0 1233.0 1262.0 1230.5 1266.0 1228.0C1270.7 1225.1 1275.3 1221.1 1280.0 1220.0C1286.7 1218.4 1293.3 1217.5 1300.0 1217.0C1306.0 1216.5 1312.0 1216.0 1318.0 1216.0C1320.7 1216.0 1323.3 1220.3 1326.0 1222.0C1328.3 1223.5 1330.7 1226.0 1333.0 1226.0C1335.3 1226.0 1337.7 1224.0 1340.0 1222.0C1342.7 1219.7 1345.3 1212.5 1348.0 1208.0C1350.0 1204.6 1352.0 1201.3 1354.0 1198.0C1356.0 1194.7 1358.0 1192.5 1360.0 1188.0C1362.7 1182.0 1365.3 1167.7 1368.0 1158.0C1370.7 1148.3 1373.3 1138.0 1376.0 1130.0C1378.0 1124.0 1380.0 1115.9 1382.0 1114.0C1384.3 1111.8 1386.7 1110.0 1389.0 1110.0C1391.3 1110.0 1393.7 1111.4 1396.0 1113.0C1398.0 1114.4 1400.0 1118.0 1402.0 1122.0C1404.0 1126.0 1406.0 1133.7 1408.0 1140.0C1410.0 1146.3 1412.0 1153.7 1414.0 1160.0C1416.0 1166.3 1418.0 1173.2 1420.0 1178.0C1422.0 1182.8 1424.0 1189.2 1426.0 1190.0C1429.3 1191.3 1432.7 1192.0 1436.0 1192.0C1439.3 1192.0 1442.7 1190.0 1446.0 1190.0C1448.0 1190.0 1450.0 1195.9 1452.0 1200.0C1453.3 1202.7 1454.7 1207.5 1456.0 1210.0C1457.3 1212.5 1458.7 1215.7 1460.0 1216.0C1462.7 1216.7 1465.3 1217.0 1468.0 1217.0C1470.7 1217.0 1473.3 1213.1 1476.0 1210.0C1478.0 1207.7 1480.0 1202.2 1482.0 1200.0C1484.0 1197.8 1486.0 1195.0 1488.0 1195.0C1489.7 1195.0 1491.3 1196.2 1493.0 1197.0C1495.3 1198.1 1497.7 1199.4 1500.0 1201.0L1500.0 1201.0L367.3 1215.8Z" fill="#0808ff" stroke="#0808ff" stroke-width="0.8" stroke-linejoin="round"/>
<path d="M360 1215.90L1510 1200.87" stroke="#0808ff" stroke-width="5" fill="none"/>
<path d="M367.3 1216.0C368.2 1217.6 369.1 1219.9 370.0 1220.0C373.3 1220.4 376.7 1220.3 380.0 1220.5C383.3 1220.7 386.7 1220.7 390.0 1221.0C392.7 1221.2 395.3 1223.7 398.0 1225.0C400.7 1226.3 403.3 1228.5 406.0 1229.0C408.7 1229.5 411.3 1230.0 414.0 1230.0C416.7 1230.0 419.3 1227.7 422.0 1226.0C424.7 1224.3 427.3 1221.7 430.0 1219.0C432.2 1216.8 434.3 1212.9 436.5 1211.6C439.8 1209.6 443.2 1207.6 446.5 1207.6C449.2 1207.6 451.9 1208.6 454.6 1209.6C457.3 1210.5 459.9 1213.4 462.6 1214.6C466.0 1216.1 469.3 1217.2 472.7 1218.0C474.5 1218.4 476.2 1219.0 478.0 1219.0C480.2 1219.0 482.5 1215.9 484.7 1214.6C487.4 1213.1 490.1 1211.5 492.8 1210.6C495.5 1209.7 498.1 1209.0 500.8 1208.6C503.5 1208.2 506.2 1208.0 508.9 1207.6C511.6 1207.2 514.3 1206.7 517.0 1205.6C519.7 1204.5 522.3 1200.9 525.0 1197.5C527.0 1195.0 529.0 1190.8 531.0 1187.5C533.0 1184.2 535.0 1178.9 537.0 1177.4C539.0 1175.9 541.0 1174.4 543.0 1174.4C545.0 1174.4 547.0 1174.4 549.0 1174.4C551.1 1174.4 553.1 1177.3 555.2 1179.4C557.2 1181.4 559.2 1184.7 561.2 1187.5C563.9 1191.3 566.6 1196.1 569.3 1199.6C572.0 1203.0 574.6 1207.3 577.3 1208.6C580.0 1210.0 582.7 1211.2 585.4 1211.2C588.1 1211.2 590.7 1211.0 593.4 1210.6C596.1 1210.2 598.7 1207.3 601.4 1204.6C604.1 1201.8 606.8 1195.7 609.5 1191.5C611.5 1188.4 613.5 1184.5 615.5 1182.5C618.2 1179.7 620.9 1177.8 623.6 1176.4C626.3 1175.1 628.9 1174.4 631.6 1173.4C635.0 1172.2 638.3 1170.9 641.7 1169.8C643.1 1169.3 644.6 1168.4 646.0 1168.4C648.0 1168.4 650.0 1168.4 652.0 1168.4C654.0 1168.4 656.0 1171.3 658.0 1173.4C660.0 1175.5 662.0 1178.9 664.0 1181.4C666.1 1183.9 668.1 1187.1 670.2 1188.5C671.5 1189.4 672.9 1190.5 674.2 1190.5C675.9 1190.5 677.5 1186.6 679.2 1183.5C680.9 1180.3 682.6 1173.0 684.3 1169.4C686.3 1165.2 688.3 1161.0 690.3 1159.3C692.6 1157.3 695.0 1155.3 697.3 1155.3C699.0 1155.3 700.7 1157.4 702.4 1159.3C704.4 1161.5 706.4 1167.6 708.4 1171.4C710.4 1175.3 712.5 1179.6 714.5 1182.5C716.5 1185.3 718.5 1188.7 720.5 1189.5C723.2 1190.6 725.8 1190.6 728.5 1191.5C731.2 1192.4 733.9 1193.5 736.6 1195.5C738.6 1197.0 740.6 1201.3 742.6 1203.6C744.6 1205.9 746.7 1208.1 748.7 1209.6C751.4 1211.5 754.0 1214.0 756.7 1214.0C759.4 1214.0 762.0 1214.0 764.7 1214.0C766.7 1214.0 768.8 1212.4 770.8 1210.6C772.8 1208.8 774.8 1202.3 776.8 1197.5C778.8 1192.6 780.9 1185.8 782.9 1181.4C784.9 1177.1 786.9 1171.9 788.9 1170.4C790.2 1169.4 791.6 1168.4 792.9 1168.4C794.6 1168.4 796.3 1170.4 798.0 1172.4C799.7 1174.3 801.3 1179.5 803.0 1183.5C805.0 1188.3 807.0 1195.5 809.0 1199.6C811.0 1203.7 813.0 1207.9 815.0 1209.6C817.0 1211.3 819.0 1213.0 821.0 1213.0C823.0 1213.0 825.1 1208.2 827.1 1205.6C829.1 1203.0 831.2 1199.8 833.2 1197.5C835.2 1195.2 837.2 1192.7 839.2 1191.5C841.2 1190.3 843.2 1189.0 845.2 1189.0C847.2 1189.0 849.3 1190.9 851.3 1192.5C853.3 1194.1 855.3 1197.9 857.3 1200.6C858.9 1202.7 860.4 1204.6 862.0 1207.0C863.3 1209.0 864.7 1212.1 866.0 1214.0C868.4 1217.5 870.9 1221.0 873.3 1222.7C875.5 1224.2 877.8 1225.3 880.0 1226.0C883.1 1226.9 886.2 1228.0 889.3 1228.0C892.4 1228.0 895.6 1226.7 898.7 1225.3C900.9 1224.3 903.1 1221.0 905.3 1220.0C908.4 1218.6 911.6 1217.8 914.7 1217.3C918.2 1216.7 921.8 1216.6 925.3 1216.0C928.0 1215.6 930.6 1214.0 933.3 1214.0C935.1 1214.0 936.9 1216.5 938.7 1218.0C940.9 1219.8 943.1 1222.3 945.3 1224.0C947.5 1225.8 949.8 1228.7 952.0 1228.7C954.7 1228.7 957.3 1228.7 960.0 1228.7C962.2 1228.7 964.5 1225.9 966.7 1225.3C968.9 1224.7 971.1 1224.4 973.3 1224.0C976.0 1223.5 978.6 1223.4 981.3 1222.7C983.1 1222.2 984.9 1220.5 986.7 1219.3C988.5 1218.1 990.2 1216.8 992.0 1215.3C993.3 1214.1 994.7 1212.6 996.0 1211.3C998.7 1208.7 1001.3 1205.5 1004.0 1204.0C1007.3 1202.1 1010.7 1201.9 1014.0 1200.0C1016.7 1198.5 1019.3 1194.5 1022.0 1192.0C1024.7 1189.5 1027.3 1186.0 1030.0 1185.0C1032.0 1184.3 1034.0 1183.6 1036.0 1183.6C1038.0 1183.6 1040.0 1186.0 1042.0 1188.0C1044.0 1190.0 1046.0 1194.7 1048.0 1198.0C1050.0 1201.3 1052.0 1204.7 1054.0 1208.0C1056.0 1211.3 1058.0 1216.5 1060.0 1218.0C1062.0 1219.5 1064.0 1221.0 1066.0 1221.0C1068.7 1221.0 1071.3 1220.5 1074.0 1220.0C1076.7 1219.5 1079.3 1217.0 1082.0 1217.0C1084.7 1217.0 1087.3 1217.5 1090.0 1218.0C1092.7 1218.5 1095.3 1220.5 1098.0 1221.0C1100.7 1221.5 1103.3 1222.0 1106.0 1222.0C1108.7 1222.0 1111.3 1220.0 1114.0 1219.0C1116.7 1218.0 1119.3 1216.9 1122.0 1216.0C1124.0 1215.3 1126.0 1214.0 1128.0 1214.0C1130.0 1214.0 1132.0 1215.2 1134.0 1216.0C1136.7 1217.1 1139.3 1218.8 1142.0 1220.0C1145.3 1221.5 1148.7 1223.4 1152.0 1224.0C1154.7 1224.5 1157.3 1224.6 1160.0 1225.0C1163.3 1225.5 1166.7 1227.0 1170.0 1227.0C1173.3 1227.0 1176.7 1227.0 1180.0 1227.0C1182.7 1227.0 1185.3 1226.4 1188.0 1226.0C1190.7 1225.6 1193.3 1224.6 1196.0 1224.0C1198.7 1223.4 1201.3 1222.5 1204.0 1222.5C1206.7 1222.5 1209.3 1226.2 1212.0 1228.0C1215.3 1230.3 1218.7 1234.5 1222.0 1235.0C1226.7 1235.6 1231.3 1236.0 1236.0 1236.0C1240.7 1236.0 1245.3 1236.0 1250.0 1236.0C1253.3 1236.0 1256.7 1233.5 1260.0 1232.0C1262.7 1230.8 1265.3 1229.7 1268.0 1228.0C1270.7 1226.3 1273.3 1222.4 1276.0 1221.0C1278.7 1219.6 1281.3 1218.0 1284.0 1218.0C1288.0 1218.0 1292.0 1218.0 1296.0 1218.0C1299.3 1218.0 1302.7 1215.5 1306.0 1215.0C1309.3 1214.5 1312.7 1214.0 1316.0 1214.0C1318.7 1214.0 1321.3 1217.1 1324.0 1218.0C1326.7 1218.9 1329.3 1220.0 1332.0 1220.0C1334.7 1220.0 1337.3 1218.4 1340.0 1217.0C1342.7 1215.6 1345.3 1212.5 1348.0 1210.0C1349.3 1208.7 1350.7 1207.9 1352.0 1206.0C1354.7 1202.3 1357.3 1192.2 1360.0 1184.0C1362.7 1175.8 1365.3 1164.6 1368.0 1156.0C1370.7 1147.4 1373.3 1138.3 1376.0 1132.0C1378.0 1127.2 1380.0 1120.8 1382.0 1120.0C1383.3 1119.4 1384.7 1119.0 1386.0 1119.0C1388.0 1119.0 1390.0 1119.4 1392.0 1120.0C1394.0 1120.6 1396.0 1126.1 1398.0 1130.0C1400.0 1133.9 1402.0 1139.0 1404.0 1144.0C1406.0 1149.0 1408.0 1155.0 1410.0 1160.0C1412.0 1165.0 1414.0 1169.7 1416.0 1174.0C1418.0 1178.3 1420.0 1183.3 1422.0 1186.0C1424.0 1188.7 1426.0 1192.0 1428.0 1192.0C1430.0 1192.0 1432.0 1191.5 1434.0 1191.0C1436.7 1190.4 1439.3 1188.0 1442.0 1188.0C1444.7 1188.0 1447.3 1190.4 1450.0 1192.0C1452.7 1193.6 1455.3 1195.2 1458.0 1198.0C1459.3 1199.4 1460.7 1202.1 1462.0 1204.0C1464.0 1206.8 1466.0 1210.9 1468.0 1212.0C1470.0 1213.1 1472.0 1214.0 1474.0 1214.0C1476.0 1214.0 1478.0 1212.9 1480.0 1212.0C1482.0 1211.1 1484.0 1209.1 1486.0 1208.0C1488.0 1206.9 1490.0 1205.7 1492.0 1205.0C1494.7 1204.1 1497.3 1203.3 1500.0 1203.0L1500.0 1203.7L367.3 1218.2Z" fill="#000033" stroke="#000033" stroke-width="0.8" stroke-linejoin="round"/>
<path d="M360 1218.29L1510 1203.57" stroke="#000033" stroke-width="5" fill="none"/>
</g>
</g>
<g id="axes" stroke="#000" stroke-width="4.8" fill="none">
<path d="M327.0 1256.4H367.3"/>
<path d="M346.2 1210.0H367.3"/>
<path d="M346.2 1163.6H367.3"/>
<path d="M346.2 1117.2H367.3"/>
<path d="M346.2 1070.8H367.3"/>
<path d="M327.0 1024.4H367.3"/>
<path d="M346.2 978.0H367.3"/>
<path d="M346.2 931.6H367.3"/>
<path d="M346.2 885.2H367.3"/>
<path d="M346.2 838.8H367.3"/>
<path d="M327.0 792.4H367.3"/>
<path d="M346.2 746.0H367.3"/>
<path d="M346.2 699.6H367.3"/>
<path d="M346.2 653.2H367.3"/>
<path d="M346.2 606.8H367.3"/>
<path d="M327.0 560.4H367.3"/>
<path d="M346.2 514.0H367.3"/>
<path d="M346.2 467.6H367.3"/>
<path d="M346.2 421.2H367.3"/>
<path d="M346.2 374.8H367.3"/>
<path d="M327.0 328.4H367.3"/>
<path d="M327.0 1256.4H1500" stroke-width="4.6"/>
<path d="M366.8 1256.4V1277.6" stroke-width="4.1"/>
<path d="M423.4 1256.4V1277.6" stroke-width="4.1"/>
<path d="M480.0 1256.4V1296.5" stroke-width="4.1"/>
<path d="M536.6 1256.4V1277.6" stroke-width="4.1"/>
<path d="M593.2 1256.4V1277.6" stroke-width="4.1"/>
<path d="M649.8 1256.4V1277.6" stroke-width="4.1"/>
<path d="M706.4 1256.4V1296.5" stroke-width="4.1"/>
<path d="M763.0 1256.4V1277.6" stroke-width="4.1"/>
<path d="M819.5 1256.4V1277.6" stroke-width="4.1"/>
<path d="M876.1 1256.4V1277.6" stroke-width="4.1"/>
<path d="M932.7 1256.4V1296.5" stroke-width="4.1"/>
<path d="M989.3 1256.4V1277.6" stroke-width="4.1"/>
<path d="M1045.9 1256.4V1277.6" stroke-width="4.1"/>
<path d="M1102.5 1256.4V1277.6" stroke-width="4.1"/>
<path d="M1159.1 1256.4V1296.5" stroke-width="4.1"/>
<path d="M1215.7 1256.4V1277.6" stroke-width="4.1"/>
<path d="M1272.3 1256.4V1277.6" stroke-width="4.1"/>
<path d="M1328.8 1256.4V1277.6" stroke-width="4.1"/>
<path d="M1385.4 1256.4V1296.5" stroke-width="4.1"/>
<path d="M1442.0 1256.4V1277.6" stroke-width="4.1"/>
<path d="M1498.6 1256.4V1277.6" stroke-width="4.1"/>
</g>
<g id="ticklabels">
<text transform="translate(146.20 347.80) scale(0.6140 0.6600)" font-size="100" stroke="#000" stroke-width="1.41" stroke-linejoin="round">0.020</text>
<text transform="translate(146.20 579.80) scale(0.6140 0.6600)" font-size="100" stroke="#000" stroke-width="1.41" stroke-linejoin="round" clip-path="url(#c1b)">0.015</text>
<text transform="translate(146.20 811.80) scale(0.6140 0.6600)" font-size="100" stroke="#000" stroke-width="1.41" stroke-linejoin="round" clip-path="url(#c1b)">0.010</text>
<text transform="translate(146.20 1043.80) scale(0.6140 0.6600)" font-size="100" stroke="#000" stroke-width="1.41" stroke-linejoin="round">0.005</text>
<text transform="translate(146.20 1275.80) scale(0.6140 0.6600)" font-size="100" stroke="#000" stroke-width="1.41" stroke-linejoin="round">0.000</text>
<text transform="translate(413.20 1373.35) scale(0.6120 0.6520)" font-size="100" stroke="#000" stroke-width="1.42" stroke-linejoin="round" clip-path="url(#c1a)">1564</text>
<text transform="translate(639.56 1373.35) scale(0.6120 0.6520)" font-size="100" stroke="#000" stroke-width="1.42" stroke-linejoin="round" clip-path="url(#c1a)">1560</text>
<text transform="translate(865.92 1373.35) scale(0.6120 0.6520)" font-size="100" stroke="#000" stroke-width="1.42" stroke-linejoin="round" clip-path="url(#c1a)">1556</text>
<text transform="translate(1092.28 1373.35) scale(0.6120 0.6520)" font-size="100" stroke="#000" stroke-width="1.42" stroke-linejoin="round" clip-path="url(#c1a)">1552</text>
<text transform="translate(1318.64 1373.35) scale(0.6120 0.6520)" font-size="100" stroke="#000" stroke-width="1.42" stroke-linejoin="round" clip-path="url(#c1a)">1548</text>
</g>
<text transform="translate(72.4 962.8) rotate(-90) scale(0.7147 0.7165)" font-size="100" stroke="#000" stroke-width="1.26">Absorbance</text>
<text transform="translate(604.10 1491.00) scale(0.7198 0.7400)" font-size="100" stroke="#000" stroke-width="1.23" stroke-linejoin="round">Wavenumber / cm</text>
<text transform="translate(1195.50 1465.00) scale(0.5900 0.5800)" font-size="100" stroke="#000" stroke-width="0.51" stroke-linejoin="round" clip-path="url(#c1c)">−<tspan dy="-7.6">1</tspan></text>
<text transform="translate(655.70 510.60) scale(0.8770 0.8510)" font-size="100" stroke="#000" stroke-width="0.12" stroke-linejoin="round" font-weight="bold">A</text>
<text transform="translate(1354.50 718.90) scale(0.8050 0.8390)" font-size="100" stroke="#000" stroke-width="0.12" stroke-linejoin="round" font-weight="bold">B</text>
<g id="guides">
<rect x="651.2" y="578.2" width="21.3" height="8.6" fill="#300000"/><rect x="688.8" y="578.2" width="21.3" height="8.6" fill="#300000"/><rect x="726.4" y="578.2" width="21.3" height="8.6" fill="#300000"/><rect x="763.9" y="578.2" width="21.3" height="8.6" fill="#300000"/><rect x="801.5" y="578.2" width="21.3" height="8.6" fill="#300000"/><rect x="839.1" y="578.2" width="21.3" height="8.6" fill="#300000"/><rect x="876.7" y="578.2" width="19.6" height="8.6" fill="#300000"/>
<rect x="651.2" y="1024.7" width="21.3" height="8.6" fill="#000078"/><rect x="688.8" y="1024.7" width="21.3" height="8.6" fill="#000078"/><rect x="726.4" y="1024.7" width="21.3" height="8.6" fill="#000078"/><rect x="763.9" y="1024.7" width="21.3" height="8.6" fill="#000078"/><rect x="801.5" y="1024.7" width="21.3" height="8.6" fill="#000078"/><rect x="839.1" y="1024.7" width="21.3" height="8.6" fill="#000078"/><rect x="876.7" y="1024.7" width="19.6" height="8.6" fill="#000078"/>
<rect x="1153.0" y="781.5" width="21.3" height="8.6" fill="#300000"/><rect x="1190.7" y="781.5" width="21.3" height="8.6" fill="#300000"/><rect x="1228.4" y="781.5" width="21.3" height="8.6" fill="#300000"/><rect x="1266.1" y="781.5" width="21.3" height="8.6" fill="#300000"/><rect x="1303.8" y="781.5" width="21.3" height="8.6" fill="#300000"/><rect x="1341.5" y="781.5" width="21.3" height="8.6" fill="#300000"/><rect x="1379.2" y="781.5" width="19.6" height="8.6" fill="#300000"/>
<rect x="1153.0" y="966.3" width="21.3" height="8.6" fill="#000078"/><rect x="1190.7" y="966.3" width="21.3" height="8.6" fill="#000078"/><rect x="1228.4" y="966.3" width="21.3" height="8.6" fill="#000078"/><rect x="1266.1" y="966.3" width="21.3" height="8.6" fill="#000078"/><rect x="1303.8" y="966.3" width="21.3" height="8.6" fill="#000078"/><rect x="1341.5" y="966.3" width="21.3" height="8.6" fill="#000078"/><rect x="1379.2" y="966.3" width="19.6" height="8.6" fill="#000078"/>
</g>
</svg>
</body>
</html>
